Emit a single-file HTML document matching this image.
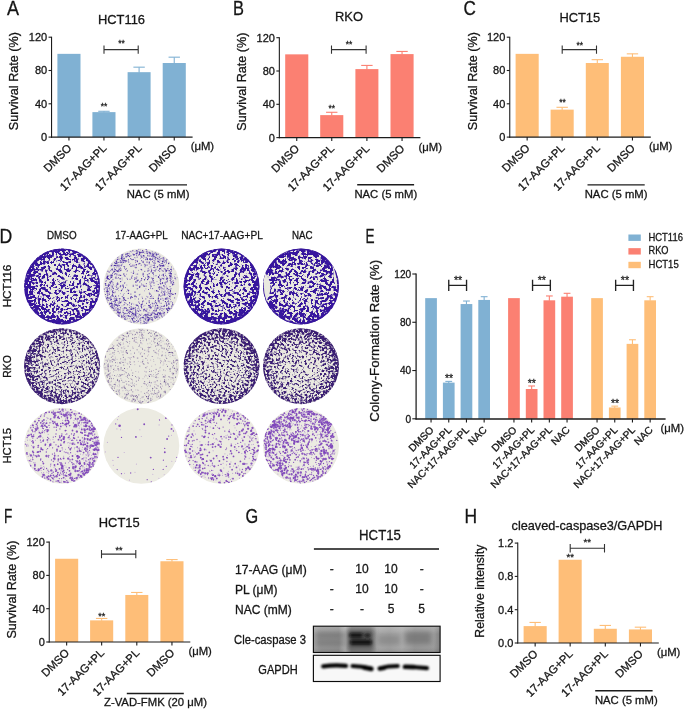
<!DOCTYPE html>
<html><head><meta charset="utf-8"><title>Figure</title>
<style>
html,body{margin:0;padding:0;background:#fff;}
body{width:685px;height:710px;overflow:hidden;font-family:"Liberation Sans",sans-serif;}
svg{display:block;font-family:"Liberation Sans",sans-serif;will-change:transform;}
text{stroke:#1a1a1a;stroke-width:0.3px;}
</style></head><body>
<svg width="685" height="710" viewBox="0 0 685 710">
<defs>
<radialGradient id="pg1" gradientUnits="userSpaceOnUse" cx="63.6" cy="284.4" r="38.0"><stop offset="0.000" stop-color="#000" stop-opacity="0.315"/><stop offset="0.500" stop-color="#000" stop-opacity="0.323"/><stop offset="0.700" stop-color="#000" stop-opacity="0.340"/><stop offset="0.820" stop-color="#000" stop-opacity="0.364"/><stop offset="0.900" stop-color="#000" stop-opacity="0.398"/><stop offset="0.960" stop-color="#000" stop-opacity="0.448"/><stop offset="1.000" stop-color="#000" stop-opacity="0.483"/></radialGradient>
<clipPath id="pc1"><circle cx="62.1" cy="286.4" r="38.0"/></clipPath>
<filter id="pf1" filterUnits="userSpaceOnUse" x="21.1" y="245.4" width="82.0" height="82.0" color-interpolation-filters="sRGB">
<feTurbulence type="fractalNoise" baseFrequency="0.42" numOctaves="3" seed="11" result="n"/>
<feColorMatrix in="n" type="matrix" values="0 0 0 0 0 0 0 0 0 0 0 0 0 0 0 1 0 0 0 0" result="na"/>
<feComposite in="na" in2="SourceGraphic" operator="arithmetic" k1="0" k2="0.5" k3="0.5" k4="0"/>
</filter>
<filter id="th0" x="-5%" y="-5%" width="110%" height="110%" color-interpolation-filters="sRGB">
<feComponentTransfer in="SourceGraphic" result="m"><feFuncA type="linear" slope="34" intercept="-14.120"/></feComponentTransfer>
<feFlood flood-color="#37169E"/><feComposite operator="in" in2="m"/>
</filter>
<radialGradient id="pg3" gradientUnits="userSpaceOnUse" cx="220.5" cy="284.9" r="38.0"><stop offset="0.000" stop-color="#000" stop-opacity="0.315"/><stop offset="0.500" stop-color="#000" stop-opacity="0.323"/><stop offset="0.700" stop-color="#000" stop-opacity="0.340"/><stop offset="0.820" stop-color="#000" stop-opacity="0.366"/><stop offset="0.900" stop-color="#000" stop-opacity="0.404"/><stop offset="0.960" stop-color="#000" stop-opacity="0.457"/><stop offset="1.000" stop-color="#000" stop-opacity="0.483"/></radialGradient>
<clipPath id="pc3"><circle cx="221.5" cy="286.4" r="38.0"/></clipPath>
<filter id="pf3" filterUnits="userSpaceOnUse" x="180.5" y="245.4" width="82.0" height="82.0" color-interpolation-filters="sRGB">
<feTurbulence type="fractalNoise" baseFrequency="0.42" numOctaves="3" seed="13" result="n"/>
<feColorMatrix in="n" type="matrix" values="0 0 0 0 0 0 0 0 0 0 0 0 0 0 0 1 0 0 0 0" result="na"/>
<feComposite in="na" in2="SourceGraphic" operator="arithmetic" k1="0" k2="0.5" k3="0.5" k4="0"/>
</filter>
<radialGradient id="pg4" gradientUnits="userSpaceOnUse" cx="301.0" cy="286.4" r="38.0"><stop offset="0.000" stop-color="#000" stop-opacity="0.326"/><stop offset="0.500" stop-color="#000" stop-opacity="0.335"/><stop offset="0.700" stop-color="#000" stop-opacity="0.354"/><stop offset="0.820" stop-color="#000" stop-opacity="0.379"/><stop offset="0.900" stop-color="#000" stop-opacity="0.416"/><stop offset="0.960" stop-color="#000" stop-opacity="0.461"/><stop offset="1.000" stop-color="#000" stop-opacity="0.483"/></radialGradient>
<clipPath id="pc4"><circle cx="301.0" cy="286.4" r="38.0"/></clipPath>
<filter id="pf4" filterUnits="userSpaceOnUse" x="260.0" y="245.4" width="82.0" height="82.0" color-interpolation-filters="sRGB">
<feTurbulence type="fractalNoise" baseFrequency="0.42" numOctaves="3" seed="14" result="n"/>
<feColorMatrix in="n" type="matrix" values="0 0 0 0 0 0 0 0 0 0 0 0 0 0 0 1 0 0 0 0" result="na"/>
<feComposite in="na" in2="SourceGraphic" operator="arithmetic" k1="0" k2="0.5" k3="0.5" k4="0"/>
</filter>
<radialGradient id="pg5" gradientUnits="userSpaceOnUse" cx="64.6" cy="363.7" r="38.0"><stop offset="0.000" stop-color="#000" stop-opacity="0.288"/><stop offset="0.500" stop-color="#000" stop-opacity="0.296"/><stop offset="0.750" stop-color="#000" stop-opacity="0.326"/><stop offset="0.900" stop-color="#000" stop-opacity="0.371"/><stop offset="1.000" stop-color="#000" stop-opacity="0.416"/></radialGradient>
<clipPath id="pc5"><circle cx="62.1" cy="366.2" r="38.0"/></clipPath>
<filter id="pf5" filterUnits="userSpaceOnUse" x="21.1" y="325.2" width="82.0" height="82.0" color-interpolation-filters="sRGB">
<feTurbulence type="fractalNoise" baseFrequency="0.55" numOctaves="2" seed="21" result="n"/>
<feColorMatrix in="n" type="matrix" values="0 0 0 0 0 0 0 0 0 0 0 0 0 0 0 1 0 0 0 0" result="na"/>
<feComposite in="na" in2="SourceGraphic" operator="arithmetic" k1="0" k2="0.5" k3="0.5" k4="0"/>
</filter>
<filter id="th1" x="-5%" y="-5%" width="110%" height="110%" color-interpolation-filters="sRGB">
<feComponentTransfer in="SourceGraphic" result="m"><feFuncA type="linear" slope="16" intercept="-6.380"/></feComponentTransfer>
<feFlood flood-color="#3B1F74"/><feComposite operator="in" in2="m"/>
</filter>
<radialGradient id="pg7" gradientUnits="userSpaceOnUse" cx="221.5" cy="368.7" r="38.0"><stop offset="0.000" stop-color="#000" stop-opacity="0.283"/><stop offset="0.500" stop-color="#000" stop-opacity="0.294"/><stop offset="0.750" stop-color="#000" stop-opacity="0.330"/><stop offset="0.900" stop-color="#000" stop-opacity="0.379"/><stop offset="1.000" stop-color="#000" stop-opacity="0.422"/></radialGradient>
<clipPath id="pc7"><circle cx="221.5" cy="366.2" r="38.0"/></clipPath>
<filter id="pf7" filterUnits="userSpaceOnUse" x="180.5" y="325.2" width="82.0" height="82.0" color-interpolation-filters="sRGB">
<feTurbulence type="fractalNoise" baseFrequency="0.55" numOctaves="2" seed="23" result="n"/>
<feColorMatrix in="n" type="matrix" values="0 0 0 0 0 0 0 0 0 0 0 0 0 0 0 1 0 0 0 0" result="na"/>
<feComposite in="na" in2="SourceGraphic" operator="arithmetic" k1="0" k2="0.5" k3="0.5" k4="0"/>
</filter>
<radialGradient id="pg8" gradientUnits="userSpaceOnUse" cx="300.5" cy="368.7" r="38.0"><stop offset="0.000" stop-color="#000" stop-opacity="0.283"/><stop offset="0.500" stop-color="#000" stop-opacity="0.296"/><stop offset="0.750" stop-color="#000" stop-opacity="0.335"/><stop offset="0.900" stop-color="#000" stop-opacity="0.383"/><stop offset="1.000" stop-color="#000" stop-opacity="0.428"/></radialGradient>
<clipPath id="pc8"><circle cx="301.0" cy="366.2" r="38.0"/></clipPath>
<filter id="pf8" filterUnits="userSpaceOnUse" x="260.0" y="325.2" width="82.0" height="82.0" color-interpolation-filters="sRGB">
<feTurbulence type="fractalNoise" baseFrequency="0.55" numOctaves="2" seed="24" result="n"/>
<feColorMatrix in="n" type="matrix" values="0 0 0 0 0 0 0 0 0 0 0 0 0 0 0 1 0 0 0 0" result="na"/>
<feComposite in="na" in2="SourceGraphic" operator="arithmetic" k1="0" k2="0.5" k3="0.5" k4="0"/>
</filter>
<clipPath id="pc2"><circle cx="141.3" cy="286.4" r="38.0"/></clipPath>
<filter id="db2" filterUnits="userSpaceOnUse" x="101.30000000000001" y="246.39999999999998" width="80.0" height="80.0"><feGaussianBlur stdDeviation="0.25"/></filter>
<clipPath id="pc6"><circle cx="141.3" cy="366.2" r="38.0"/></clipPath>
<filter id="db6" filterUnits="userSpaceOnUse" x="101.30000000000001" y="326.2" width="80.0" height="80.0"><feGaussianBlur stdDeviation="0.3"/></filter>
<clipPath id="pc9"><circle cx="62.1" cy="445.8" r="38.0"/></clipPath>
<filter id="db9" filterUnits="userSpaceOnUse" x="22.1" y="405.8" width="80.0" height="80.0"><feGaussianBlur stdDeviation="0.35"/></filter>
<clipPath id="pc10"><circle cx="141.3" cy="445.8" r="38.0"/></clipPath>
<filter id="db10" filterUnits="userSpaceOnUse" x="101.30000000000001" y="405.8" width="80.0" height="80.0"><feGaussianBlur stdDeviation="0.35"/></filter>
<clipPath id="pc11"><circle cx="221.5" cy="445.8" r="38.0"/></clipPath>
<filter id="db11" filterUnits="userSpaceOnUse" x="181.5" y="405.8" width="80.0" height="80.0"><feGaussianBlur stdDeviation="0.35"/></filter>
<clipPath id="pc12"><circle cx="301.0" cy="445.8" r="38.0"/></clipPath>
<filter id="db12" filterUnits="userSpaceOnUse" x="261.0" y="405.8" width="80.0" height="80.0"><feGaussianBlur stdDeviation="0.35"/></filter>
<filter id="bl1" x="-20%" y="-50%" width="140%" height="200%"><feGaussianBlur stdDeviation="1.45"/></filter>
<filter id="bl2" x="-30%" y="-60%" width="160%" height="220%"><feGaussianBlur stdDeviation="2.4"/></filter>
<filter id="bl3" filterUnits="userSpaceOnUse" x="313" y="655" width="128" height="27"><feGaussianBlur stdDeviation="0.8"/></filter>
<linearGradient id="bg1" x1="0" x2="1" y1="0" y2="0"><stop offset="0" stop-color="#a4a4a4"/><stop offset="0.06" stop-color="#949494"/><stop offset="0.2" stop-color="#909090"/><stop offset="0.255" stop-color="#b4b4b4"/><stop offset="0.3" stop-color="#868686"/><stop offset="0.45" stop-color="#888888"/><stop offset="0.5" stop-color="#a8a8a8"/><stop offset="0.6" stop-color="#a0a0a0"/><stop offset="0.7" stop-color="#aaaaaa"/><stop offset="0.8" stop-color="#969696"/><stop offset="0.95" stop-color="#9c9c9c"/><stop offset="1" stop-color="#808080"/></linearGradient>
<linearGradient id="bg1v" x1="0" x2="0" y1="0" y2="1"><stop offset="0" stop-color="#fff" stop-opacity="0.22"/><stop offset="0.3" stop-color="#fff" stop-opacity="0"/><stop offset="0.8" stop-color="#000" stop-opacity="0"/><stop offset="1" stop-color="#000" stop-opacity="0.10"/></linearGradient>
<clipPath id="bc1"><rect x="313.4" y="626.2" width="126.7" height="26.3"/></clipPath>
<clipPath id="bc2"><rect x="313.4" y="655.3" width="126.7" height="26.2"/></clipPath>
</defs>
<rect x="57.40" y="53.85" width="23.10" height="83.25" fill="#80B1D3"/>
<line x1="103.95" y1="112.62" x2="103.95" y2="111.29" stroke="#80B1D3" stroke-width="1.1" stroke-linecap="butt"/>
<line x1="98.25" y1="111.29" x2="109.65" y2="111.29" stroke="#80B1D3" stroke-width="1.1" stroke-linecap="butt"/>
<rect x="92.40" y="112.12" width="23.10" height="24.97" fill="#80B1D3"/>
<line x1="139.10" y1="72.67" x2="139.10" y2="67.17" stroke="#80B1D3" stroke-width="1.1" stroke-linecap="butt"/>
<line x1="133.40" y1="67.17" x2="144.80" y2="67.17" stroke="#80B1D3" stroke-width="1.1" stroke-linecap="butt"/>
<rect x="127.60" y="72.17" width="23.00" height="64.93" fill="#80B1D3"/>
<line x1="174.25" y1="63.51" x2="174.25" y2="57.18" stroke="#80B1D3" stroke-width="1.1" stroke-linecap="butt"/>
<line x1="168.55" y1="57.18" x2="179.95" y2="57.18" stroke="#80B1D3" stroke-width="1.1" stroke-linecap="butt"/>
<rect x="162.70" y="63.01" width="23.10" height="74.09" fill="#80B1D3"/>
<line x1="51.55" y1="36.65" x2="51.55" y2="137.65" stroke="#1c1c1c" stroke-width="1.1" stroke-linecap="butt"/>
<line x1="51.00" y1="137.10" x2="192.60" y2="137.10" stroke="#1c1c1c" stroke-width="1.1" stroke-linecap="butt"/>
<line x1="48.55" y1="137.10" x2="51.55" y2="137.10" stroke="#1c1c1c" stroke-width="1.1" stroke-linecap="butt"/>
<text x="47.15" y="141.00" font-size="11" text-anchor="end" fill="#141414">0</text>
<line x1="48.55" y1="103.80" x2="51.55" y2="103.80" stroke="#1c1c1c" stroke-width="1.1" stroke-linecap="butt"/>
<text x="47.15" y="107.70" font-size="11" text-anchor="end" fill="#141414">40</text>
<line x1="48.55" y1="70.50" x2="51.55" y2="70.50" stroke="#1c1c1c" stroke-width="1.1" stroke-linecap="butt"/>
<text x="47.15" y="74.40" font-size="11" text-anchor="end" fill="#141414">80</text>
<line x1="48.55" y1="37.20" x2="51.55" y2="37.20" stroke="#1c1c1c" stroke-width="1.1" stroke-linecap="butt"/>
<text x="47.15" y="41.10" font-size="11" text-anchor="end" fill="#141414">120</text>
<line x1="68.95" y1="137.10" x2="68.95" y2="140.50" stroke="#1c1c1c" stroke-width="1.1" stroke-linecap="butt"/>
<line x1="103.95" y1="137.10" x2="103.95" y2="140.50" stroke="#1c1c1c" stroke-width="1.1" stroke-linecap="butt"/>
<line x1="139.10" y1="137.10" x2="139.10" y2="140.50" stroke="#1c1c1c" stroke-width="1.1" stroke-linecap="butt"/>
<line x1="174.25" y1="137.10" x2="174.25" y2="140.50" stroke="#1c1c1c" stroke-width="1.1" stroke-linecap="butt"/>
<text x="121.50" y="23.50" font-size="12.9" text-anchor="middle" fill="#141414">HCT116</text>
<text x="18.50" y="81.15" font-size="12.6" text-anchor="middle" fill="#141414" transform="rotate(-90 18.50 81.15)">Survival Rate (%)</text>
<text x="72.25" y="148.70" font-size="11.3" text-anchor="end" fill="#141414" transform="rotate(-45 72.25 148.70)">DMSO</text>
<text x="107.25" y="148.70" font-size="11.3" text-anchor="end" fill="#141414" transform="rotate(-45 107.25 148.70)">17-AAG+PL</text>
<text x="142.40" y="148.70" font-size="11.3" text-anchor="end" fill="#141414" transform="rotate(-45 142.40 148.70)">17-AAG+PL</text>
<text x="177.55" y="148.70" font-size="11.3" text-anchor="end" fill="#141414" transform="rotate(-45 177.55 148.70)">DMSO</text>
<text x="190.70" y="150.10" font-size="11.3" text-anchor="start" fill="#141414">(μM)</text>
<path d="M104.00 45.40V53.80M104.00 49.60H138.20M138.20 45.40V53.80" stroke="#333" stroke-width="1.1" fill="none"/>
<text x="121.40" y="45.84" font-size="8.4" text-anchor="middle" fill="#333" stroke="none">**</text>
<text x="104.00" y="108.94" font-size="8.4" text-anchor="middle" fill="#333" stroke="none">**</text>
<line x1="128.90" y1="184.80" x2="187.00" y2="184.80" stroke="#1c1c1c" stroke-width="1.15" stroke-linecap="butt"/>
<text x="158.10" y="198.40" font-size="11.3" text-anchor="middle" fill="#141414">NAC (5 mM)</text>
<text x="7.00" y="15.20" font-size="19.4" text-anchor="start" fill="#141414" transform="translate(7.00 15.20) scale(0.93 1) translate(-7.00 -15.20)" stroke-width="0.65">A</text>
<rect x="285.20" y="54.35" width="23.10" height="83.25" fill="#FB8072"/>
<line x1="331.75" y1="115.62" x2="331.75" y2="112.29" stroke="#FB8072" stroke-width="1.1" stroke-linecap="butt"/>
<line x1="326.05" y1="112.29" x2="337.45" y2="112.29" stroke="#FB8072" stroke-width="1.1" stroke-linecap="butt"/>
<rect x="320.20" y="115.12" width="23.10" height="22.48" fill="#FB8072"/>
<line x1="366.90" y1="69.59" x2="366.90" y2="65.42" stroke="#FB8072" stroke-width="1.1" stroke-linecap="butt"/>
<line x1="361.20" y1="65.42" x2="372.60" y2="65.42" stroke="#FB8072" stroke-width="1.1" stroke-linecap="butt"/>
<rect x="355.40" y="69.09" width="23.00" height="68.51" fill="#FB8072"/>
<line x1="402.05" y1="54.60" x2="402.05" y2="51.44" stroke="#FB8072" stroke-width="1.1" stroke-linecap="butt"/>
<line x1="396.35" y1="51.44" x2="407.75" y2="51.44" stroke="#FB8072" stroke-width="1.1" stroke-linecap="butt"/>
<rect x="390.50" y="54.10" width="23.10" height="83.50" fill="#FB8072"/>
<line x1="279.35" y1="37.15" x2="279.35" y2="138.15" stroke="#1c1c1c" stroke-width="1.1" stroke-linecap="butt"/>
<line x1="278.80" y1="137.60" x2="420.40" y2="137.60" stroke="#1c1c1c" stroke-width="1.1" stroke-linecap="butt"/>
<line x1="276.35" y1="137.60" x2="279.35" y2="137.60" stroke="#1c1c1c" stroke-width="1.1" stroke-linecap="butt"/>
<text x="274.95" y="141.50" font-size="11" text-anchor="end" fill="#141414">0</text>
<line x1="276.35" y1="104.30" x2="279.35" y2="104.30" stroke="#1c1c1c" stroke-width="1.1" stroke-linecap="butt"/>
<text x="274.95" y="108.20" font-size="11" text-anchor="end" fill="#141414">40</text>
<line x1="276.35" y1="71.00" x2="279.35" y2="71.00" stroke="#1c1c1c" stroke-width="1.1" stroke-linecap="butt"/>
<text x="274.95" y="74.90" font-size="11" text-anchor="end" fill="#141414">80</text>
<line x1="276.35" y1="37.70" x2="279.35" y2="37.70" stroke="#1c1c1c" stroke-width="1.1" stroke-linecap="butt"/>
<text x="274.95" y="41.60" font-size="11" text-anchor="end" fill="#141414">120</text>
<line x1="296.75" y1="137.60" x2="296.75" y2="141.00" stroke="#1c1c1c" stroke-width="1.1" stroke-linecap="butt"/>
<line x1="331.75" y1="137.60" x2="331.75" y2="141.00" stroke="#1c1c1c" stroke-width="1.1" stroke-linecap="butt"/>
<line x1="366.90" y1="137.60" x2="366.90" y2="141.00" stroke="#1c1c1c" stroke-width="1.1" stroke-linecap="butt"/>
<line x1="402.05" y1="137.60" x2="402.05" y2="141.00" stroke="#1c1c1c" stroke-width="1.1" stroke-linecap="butt"/>
<text x="349.00" y="21.30" font-size="12.9" text-anchor="middle" fill="#141414">RKO</text>
<text x="246.30" y="81.65" font-size="12.6" text-anchor="middle" fill="#141414" transform="rotate(-90 246.30 81.65)">Survival Rate (%)</text>
<text x="300.05" y="149.20" font-size="11.3" text-anchor="end" fill="#141414" transform="rotate(-45 300.05 149.20)">DMSO</text>
<text x="335.05" y="149.20" font-size="11.3" text-anchor="end" fill="#141414" transform="rotate(-45 335.05 149.20)">17-AAG+PL</text>
<text x="370.20" y="149.20" font-size="11.3" text-anchor="end" fill="#141414" transform="rotate(-45 370.20 149.20)">17-AAG+PL</text>
<text x="405.35" y="149.20" font-size="11.3" text-anchor="end" fill="#141414" transform="rotate(-45 405.35 149.20)">DMSO</text>
<text x="418.50" y="150.60" font-size="11.3" text-anchor="start" fill="#141414">(μM)</text>
<path d="M331.50 45.40V53.80M331.50 49.60H366.10M366.10 45.40V53.80" stroke="#333" stroke-width="1.1" fill="none"/>
<text x="349.10" y="47.14" font-size="8.4" text-anchor="middle" fill="#333" stroke="none">**</text>
<text x="331.70" y="110.54" font-size="8.4" text-anchor="middle" fill="#333" stroke="none">**</text>
<line x1="357.20" y1="184.80" x2="414.10" y2="184.80" stroke="#1c1c1c" stroke-width="1.45" stroke-linecap="butt"/>
<text x="385.80" y="198.40" font-size="11.3" text-anchor="middle" fill="#141414">NAC (5 mM)</text>
<text x="232.90" y="15.20" font-size="19.4" text-anchor="start" fill="#141414" transform="translate(232.90 15.20) scale(0.8463 1) translate(-232.90 -15.20)" stroke-width="0.65">B</text>
<rect x="515.60" y="53.85" width="23.10" height="83.25" fill="#FEBE78"/>
<line x1="562.15" y1="110.13" x2="562.15" y2="107.30" stroke="#FEBE78" stroke-width="1.1" stroke-linecap="butt"/>
<line x1="556.45" y1="107.30" x2="567.85" y2="107.30" stroke="#FEBE78" stroke-width="1.1" stroke-linecap="butt"/>
<rect x="550.60" y="109.63" width="23.10" height="27.47" fill="#FEBE78"/>
<line x1="597.30" y1="63.51" x2="597.30" y2="59.68" stroke="#FEBE78" stroke-width="1.1" stroke-linecap="butt"/>
<line x1="591.60" y1="59.68" x2="603.00" y2="59.68" stroke="#FEBE78" stroke-width="1.1" stroke-linecap="butt"/>
<rect x="585.80" y="63.01" width="23.00" height="74.09" fill="#FEBE78"/>
<line x1="632.45" y1="57.26" x2="632.45" y2="53.85" stroke="#FEBE78" stroke-width="1.1" stroke-linecap="butt"/>
<line x1="626.75" y1="53.85" x2="638.15" y2="53.85" stroke="#FEBE78" stroke-width="1.1" stroke-linecap="butt"/>
<rect x="620.90" y="56.76" width="23.10" height="80.34" fill="#FEBE78"/>
<line x1="509.75" y1="36.65" x2="509.75" y2="137.65" stroke="#1c1c1c" stroke-width="1.1" stroke-linecap="butt"/>
<line x1="509.20" y1="137.10" x2="650.80" y2="137.10" stroke="#1c1c1c" stroke-width="1.1" stroke-linecap="butt"/>
<line x1="506.75" y1="137.10" x2="509.75" y2="137.10" stroke="#1c1c1c" stroke-width="1.1" stroke-linecap="butt"/>
<text x="505.35" y="141.00" font-size="11" text-anchor="end" fill="#141414">0</text>
<line x1="506.75" y1="103.80" x2="509.75" y2="103.80" stroke="#1c1c1c" stroke-width="1.1" stroke-linecap="butt"/>
<text x="505.35" y="107.70" font-size="11" text-anchor="end" fill="#141414">40</text>
<line x1="506.75" y1="70.50" x2="509.75" y2="70.50" stroke="#1c1c1c" stroke-width="1.1" stroke-linecap="butt"/>
<text x="505.35" y="74.40" font-size="11" text-anchor="end" fill="#141414">80</text>
<line x1="506.75" y1="37.20" x2="509.75" y2="37.20" stroke="#1c1c1c" stroke-width="1.1" stroke-linecap="butt"/>
<text x="505.35" y="41.10" font-size="11" text-anchor="end" fill="#141414">120</text>
<line x1="527.15" y1="137.10" x2="527.15" y2="140.50" stroke="#1c1c1c" stroke-width="1.1" stroke-linecap="butt"/>
<line x1="562.15" y1="137.10" x2="562.15" y2="140.50" stroke="#1c1c1c" stroke-width="1.1" stroke-linecap="butt"/>
<line x1="597.30" y1="137.10" x2="597.30" y2="140.50" stroke="#1c1c1c" stroke-width="1.1" stroke-linecap="butt"/>
<line x1="632.45" y1="137.10" x2="632.45" y2="140.50" stroke="#1c1c1c" stroke-width="1.1" stroke-linecap="butt"/>
<text x="579.80" y="21.80" font-size="12.9" text-anchor="middle" fill="#141414">HCT15</text>
<text x="476.70" y="81.15" font-size="12.6" text-anchor="middle" fill="#141414" transform="rotate(-90 476.70 81.15)">Survival Rate (%)</text>
<text x="530.45" y="148.70" font-size="11.3" text-anchor="end" fill="#141414" transform="rotate(-45 530.45 148.70)">DMSO</text>
<text x="565.45" y="148.70" font-size="11.3" text-anchor="end" fill="#141414" transform="rotate(-45 565.45 148.70)">17-AAG+PL</text>
<text x="600.60" y="148.70" font-size="11.3" text-anchor="end" fill="#141414" transform="rotate(-45 600.60 148.70)">17-AAG+PL</text>
<text x="635.75" y="148.70" font-size="11.3" text-anchor="end" fill="#141414" transform="rotate(-45 635.75 148.70)">DMSO</text>
<text x="648.90" y="150.10" font-size="11.3" text-anchor="start" fill="#141414">(μM)</text>
<path d="M562.20 45.40V53.80M562.20 49.60H596.50M596.50 45.40V53.80" stroke="#333" stroke-width="1.1" fill="none"/>
<text x="579.65" y="48.34" font-size="8.4" text-anchor="middle" fill="#333" stroke="none">**</text>
<text x="562.50" y="105.04" font-size="8.4" text-anchor="middle" fill="#333" stroke="none">**</text>
<line x1="587.50" y1="184.80" x2="644.70" y2="184.80" stroke="#1c1c1c" stroke-width="1.3" stroke-linecap="butt"/>
<text x="616.10" y="198.40" font-size="11.3" text-anchor="middle" fill="#141414">NAC (5 mM)</text>
<text x="463.60" y="15.20" font-size="19.4" text-anchor="start" fill="#141414" transform="translate(463.60 15.20) scale(0.8835 1) translate(-463.60 -15.20)" stroke-width="0.65">C</text>
<rect x="55.10" y="558.75" width="23.10" height="83.25" fill="#FEBE78"/>
<line x1="101.65" y1="620.86" x2="101.65" y2="618.44" stroke="#FEBE78" stroke-width="1.1" stroke-linecap="butt"/>
<line x1="95.95" y1="618.44" x2="107.35" y2="618.44" stroke="#FEBE78" stroke-width="1.1" stroke-linecap="butt"/>
<rect x="90.10" y="620.36" width="23.10" height="21.64" fill="#FEBE78"/>
<line x1="136.80" y1="595.46" x2="136.80" y2="592.47" stroke="#FEBE78" stroke-width="1.1" stroke-linecap="butt"/>
<line x1="131.10" y1="592.47" x2="142.50" y2="592.47" stroke="#FEBE78" stroke-width="1.1" stroke-linecap="butt"/>
<rect x="125.30" y="594.96" width="23.00" height="47.04" fill="#FEBE78"/>
<line x1="171.95" y1="561.75" x2="171.95" y2="559.58" stroke="#FEBE78" stroke-width="1.1" stroke-linecap="butt"/>
<line x1="166.25" y1="559.58" x2="177.65" y2="559.58" stroke="#FEBE78" stroke-width="1.1" stroke-linecap="butt"/>
<rect x="160.40" y="561.25" width="23.10" height="80.75" fill="#FEBE78"/>
<line x1="49.25" y1="541.55" x2="49.25" y2="642.55" stroke="#1c1c1c" stroke-width="1.1" stroke-linecap="butt"/>
<line x1="48.70" y1="642.00" x2="190.30" y2="642.00" stroke="#1c1c1c" stroke-width="1.1" stroke-linecap="butt"/>
<line x1="46.25" y1="642.00" x2="49.25" y2="642.00" stroke="#1c1c1c" stroke-width="1.1" stroke-linecap="butt"/>
<text x="44.85" y="645.90" font-size="11" text-anchor="end" fill="#141414">0</text>
<line x1="46.25" y1="608.70" x2="49.25" y2="608.70" stroke="#1c1c1c" stroke-width="1.1" stroke-linecap="butt"/>
<text x="44.85" y="612.60" font-size="11" text-anchor="end" fill="#141414">40</text>
<line x1="46.25" y1="575.40" x2="49.25" y2="575.40" stroke="#1c1c1c" stroke-width="1.1" stroke-linecap="butt"/>
<text x="44.85" y="579.30" font-size="11" text-anchor="end" fill="#141414">80</text>
<line x1="46.25" y1="542.10" x2="49.25" y2="542.10" stroke="#1c1c1c" stroke-width="1.1" stroke-linecap="butt"/>
<text x="44.85" y="546.00" font-size="11" text-anchor="end" fill="#141414">120</text>
<line x1="66.65" y1="642.00" x2="66.65" y2="645.40" stroke="#1c1c1c" stroke-width="1.1" stroke-linecap="butt"/>
<line x1="101.65" y1="642.00" x2="101.65" y2="645.40" stroke="#1c1c1c" stroke-width="1.1" stroke-linecap="butt"/>
<line x1="136.80" y1="642.00" x2="136.80" y2="645.40" stroke="#1c1c1c" stroke-width="1.1" stroke-linecap="butt"/>
<line x1="171.95" y1="642.00" x2="171.95" y2="645.40" stroke="#1c1c1c" stroke-width="1.1" stroke-linecap="butt"/>
<text x="119.20" y="526.60" font-size="12.9" text-anchor="middle" fill="#141414">HCT15</text>
<text x="16.20" y="589.55" font-size="12.6" text-anchor="middle" fill="#141414" transform="rotate(-90 16.20 589.55)">Survival Rate (%)</text>
<text x="69.95" y="653.60" font-size="11.3" text-anchor="end" fill="#141414" transform="rotate(-45 69.95 653.60)">DMSO</text>
<text x="104.95" y="653.60" font-size="11.3" text-anchor="end" fill="#141414" transform="rotate(-45 104.95 653.60)">17-AAG+PL</text>
<text x="140.10" y="653.60" font-size="11.3" text-anchor="end" fill="#141414" transform="rotate(-45 140.10 653.60)">17-AAG+PL</text>
<text x="175.25" y="653.60" font-size="11.3" text-anchor="end" fill="#141414" transform="rotate(-45 175.25 653.60)">DMSO</text>
<text x="188.40" y="655.00" font-size="11.3" text-anchor="start" fill="#141414">(μM)</text>
<path d="M101.50 549.90V558.30M101.50 554.10H135.80M135.80 549.90V558.30" stroke="#333" stroke-width="1.1" fill="none"/>
<text x="119.00" y="553.39" font-size="9.0" text-anchor="middle" fill="#333" stroke="none">**</text>
<text x="101.70" y="619.29" font-size="9.0" text-anchor="middle" fill="#333" stroke="none">**</text>
<line x1="126.80" y1="693.40" x2="183.80" y2="693.40" stroke="#1c1c1c" stroke-width="1.5" stroke-linecap="butt"/>
<text x="155.50" y="705.70" font-size="11.3" text-anchor="middle" fill="#141414">Z-VAD-FMK (20 μM)</text>
<text x="3.90" y="523.30" font-size="19.4" text-anchor="start" fill="#141414" transform="translate(3.90 523.30) scale(0.7 1) translate(-3.90 -523.30)" stroke-width="0.65">F</text>
<line x1="535.15" y1="626.60" x2="535.15" y2="622.44" stroke="#FEBE78" stroke-width="1.1" stroke-linecap="butt"/>
<line x1="529.45" y1="622.44" x2="540.85" y2="622.44" stroke="#FEBE78" stroke-width="1.1" stroke-linecap="butt"/>
<rect x="523.60" y="626.10" width="23.10" height="16.90" fill="#FEBE78"/>
<rect x="558.60" y="559.75" width="23.10" height="83.25" fill="#FEBE78"/>
<line x1="605.30" y1="629.26" x2="605.30" y2="625.43" stroke="#FEBE78" stroke-width="1.1" stroke-linecap="butt"/>
<line x1="599.60" y1="625.43" x2="611.00" y2="625.43" stroke="#FEBE78" stroke-width="1.1" stroke-linecap="butt"/>
<rect x="593.80" y="628.76" width="23.00" height="14.24" fill="#FEBE78"/>
<line x1="640.45" y1="629.93" x2="640.45" y2="627.18" stroke="#FEBE78" stroke-width="1.1" stroke-linecap="butt"/>
<line x1="634.75" y1="627.18" x2="646.15" y2="627.18" stroke="#FEBE78" stroke-width="1.1" stroke-linecap="butt"/>
<rect x="628.90" y="629.43" width="23.10" height="13.57" fill="#FEBE78"/>
<line x1="517.75" y1="542.55" x2="517.75" y2="643.55" stroke="#1c1c1c" stroke-width="1.1" stroke-linecap="butt"/>
<line x1="517.20" y1="643.00" x2="658.80" y2="643.00" stroke="#1c1c1c" stroke-width="1.1" stroke-linecap="butt"/>
<line x1="514.75" y1="643.00" x2="517.75" y2="643.00" stroke="#1c1c1c" stroke-width="1.1" stroke-linecap="butt"/>
<text x="513.35" y="646.90" font-size="11" text-anchor="end" fill="#141414">0.0</text>
<line x1="514.75" y1="609.70" x2="517.75" y2="609.70" stroke="#1c1c1c" stroke-width="1.1" stroke-linecap="butt"/>
<text x="513.35" y="613.60" font-size="11" text-anchor="end" fill="#141414">0.4</text>
<line x1="514.75" y1="576.40" x2="517.75" y2="576.40" stroke="#1c1c1c" stroke-width="1.1" stroke-linecap="butt"/>
<text x="513.35" y="580.30" font-size="11" text-anchor="end" fill="#141414">0.8</text>
<line x1="514.75" y1="543.10" x2="517.75" y2="543.10" stroke="#1c1c1c" stroke-width="1.1" stroke-linecap="butt"/>
<text x="513.35" y="547.00" font-size="11" text-anchor="end" fill="#141414">1.2</text>
<line x1="535.15" y1="643.00" x2="535.15" y2="646.40" stroke="#1c1c1c" stroke-width="1.1" stroke-linecap="butt"/>
<line x1="570.15" y1="643.00" x2="570.15" y2="646.40" stroke="#1c1c1c" stroke-width="1.1" stroke-linecap="butt"/>
<line x1="605.30" y1="643.00" x2="605.30" y2="646.40" stroke="#1c1c1c" stroke-width="1.1" stroke-linecap="butt"/>
<line x1="640.45" y1="643.00" x2="640.45" y2="646.40" stroke="#1c1c1c" stroke-width="1.1" stroke-linecap="butt"/>
<text x="587.00" y="530.00" font-size="12.7" text-anchor="middle" fill="#141414">cleaved-caspase3/GAPDH</text>
<text x="484.40" y="591.15" font-size="12.3" text-anchor="middle" fill="#141414" transform="rotate(-90 484.40 591.15)">Relative intensity</text>
<text x="538.45" y="654.60" font-size="11.3" text-anchor="end" fill="#141414" transform="rotate(-45 538.45 654.60)">DMSO</text>
<text x="573.45" y="654.60" font-size="11.3" text-anchor="end" fill="#141414" transform="rotate(-45 573.45 654.60)">17-AAG+PL</text>
<text x="608.60" y="654.60" font-size="11.3" text-anchor="end" fill="#141414" transform="rotate(-45 608.60 654.60)">17-AAG+PL</text>
<text x="643.75" y="654.60" font-size="11.3" text-anchor="end" fill="#141414" transform="rotate(-45 643.75 654.60)">DMSO</text>
<text x="656.90" y="656.00" font-size="11.3" text-anchor="start" fill="#141414">(μM)</text>
<path d="M570.20 544.10V552.50M570.20 548.30H604.50M604.50 544.10V552.50" stroke="#333" stroke-width="1.1" fill="none"/>
<text x="587.30" y="545.02" font-size="9.8" text-anchor="middle" fill="#333" stroke="none">**</text>
<text x="570.30" y="559.69" font-size="9.5" text-anchor="middle" fill="#333" stroke="none">**</text>
<line x1="595.20" y1="690.70" x2="652.60" y2="690.70" stroke="#1c1c1c" stroke-width="1.5" stroke-linecap="butt"/>
<text x="626.30" y="703.50" font-size="11.3" text-anchor="middle" fill="#141414">NAC (5 mM)</text>
<text x="464.60" y="523.40" font-size="19.4" text-anchor="start" fill="#141414" transform="translate(464.60 523.40) scale(0.9 1) translate(-464.60 -523.40)" stroke-width="0.65">H</text>
<rect x="425.20" y="298.13" width="11.70" height="120.67" fill="#80B1D3"/>
<line x1="448.75" y1="383.10" x2="448.75" y2="381.39" stroke="#80B1D3" stroke-width="1.1" stroke-linecap="butt"/>
<line x1="445.35" y1="381.39" x2="452.15" y2="381.39" stroke="#80B1D3" stroke-width="1.1" stroke-linecap="butt"/>
<rect x="442.90" y="382.60" width="11.70" height="36.20" fill="#80B1D3"/>
<line x1="466.45" y1="304.55" x2="466.45" y2="301.03" stroke="#80B1D3" stroke-width="1.1" stroke-linecap="butt"/>
<line x1="463.05" y1="301.03" x2="469.85" y2="301.03" stroke="#80B1D3" stroke-width="1.1" stroke-linecap="butt"/>
<rect x="460.60" y="304.05" width="11.70" height="114.75" fill="#80B1D3"/>
<line x1="484.15" y1="300.44" x2="484.15" y2="296.69" stroke="#80B1D3" stroke-width="1.1" stroke-linecap="butt"/>
<line x1="480.75" y1="296.69" x2="487.55" y2="296.69" stroke="#80B1D3" stroke-width="1.1" stroke-linecap="butt"/>
<rect x="478.30" y="299.94" width="11.70" height="118.86" fill="#80B1D3"/>
<path d="M448.75 279.80V291.00M448.75 285.40H466.55M466.55 279.80V291.00" stroke="#222" stroke-width="1.35" fill="none"/>
<text x="458.00" y="284.35" font-size="10.6" text-anchor="middle" fill="#333" stroke="none">**</text>
<text x="448.95" y="382.36" font-size="10.4" text-anchor="middle" fill="#333" stroke="none">**</text>
<rect x="508.10" y="298.13" width="11.70" height="120.67" fill="#FB8072"/>
<line x1="531.65" y1="389.50" x2="531.65" y2="385.98" stroke="#FB8072" stroke-width="1.1" stroke-linecap="butt"/>
<line x1="528.25" y1="385.98" x2="535.05" y2="385.98" stroke="#FB8072" stroke-width="1.1" stroke-linecap="butt"/>
<rect x="525.80" y="389.00" width="11.70" height="29.80" fill="#FB8072"/>
<line x1="549.35" y1="300.81" x2="549.35" y2="295.96" stroke="#FB8072" stroke-width="1.1" stroke-linecap="butt"/>
<line x1="545.95" y1="295.96" x2="552.75" y2="295.96" stroke="#FB8072" stroke-width="1.1" stroke-linecap="butt"/>
<rect x="543.50" y="300.31" width="11.70" height="118.49" fill="#FB8072"/>
<line x1="567.05" y1="297.19" x2="567.05" y2="293.31" stroke="#FB8072" stroke-width="1.1" stroke-linecap="butt"/>
<line x1="563.65" y1="293.31" x2="570.45" y2="293.31" stroke="#FB8072" stroke-width="1.1" stroke-linecap="butt"/>
<rect x="561.20" y="296.69" width="11.70" height="122.11" fill="#FB8072"/>
<path d="M532.55 279.80V291.00M532.55 285.40H550.35M550.35 279.80V291.00" stroke="#222" stroke-width="1.35" fill="none"/>
<text x="541.80" y="284.35" font-size="10.6" text-anchor="middle" fill="#333" stroke="none">**</text>
<text x="531.85" y="386.94" font-size="10.4" text-anchor="middle" fill="#333" stroke="none">**</text>
<rect x="591.20" y="298.13" width="11.70" height="120.67" fill="#FEBE78"/>
<line x1="614.75" y1="407.96" x2="614.75" y2="406.13" stroke="#FEBE78" stroke-width="1.1" stroke-linecap="butt"/>
<line x1="611.35" y1="406.13" x2="618.15" y2="406.13" stroke="#FEBE78" stroke-width="1.1" stroke-linecap="butt"/>
<rect x="608.90" y="407.46" width="11.70" height="11.34" fill="#FEBE78"/>
<line x1="632.45" y1="344.37" x2="632.45" y2="339.76" stroke="#FEBE78" stroke-width="1.1" stroke-linecap="butt"/>
<line x1="629.05" y1="339.76" x2="635.85" y2="339.76" stroke="#FEBE78" stroke-width="1.1" stroke-linecap="butt"/>
<rect x="626.60" y="343.87" width="11.70" height="74.93" fill="#FEBE78"/>
<line x1="650.15" y1="300.81" x2="650.15" y2="296.69" stroke="#FEBE78" stroke-width="1.1" stroke-linecap="butt"/>
<line x1="646.75" y1="296.69" x2="653.55" y2="296.69" stroke="#FEBE78" stroke-width="1.1" stroke-linecap="butt"/>
<rect x="644.30" y="300.31" width="11.70" height="118.49" fill="#FEBE78"/>
<path d="M615.65 279.80V291.00M615.65 285.40H633.45M633.45 279.80V291.00" stroke="#222" stroke-width="1.35" fill="none"/>
<text x="624.90" y="284.35" font-size="10.6" text-anchor="middle" fill="#333" stroke="none">**</text>
<text x="614.95" y="407.09" font-size="10.4" text-anchor="middle" fill="#333" stroke="none">**</text>
<line x1="416.10" y1="273.45" x2="416.10" y2="419.50" stroke="#1c1c1c" stroke-width="1.25" stroke-linecap="butt"/>
<line x1="415.50" y1="418.90" x2="665.60" y2="418.90" stroke="#1c1c1c" stroke-width="1.45" stroke-linecap="butt"/>
<line x1="412.30" y1="418.80" x2="416.10" y2="418.80" stroke="#1c1c1c" stroke-width="1.1" stroke-linecap="butt"/>
<text x="411.20" y="422.50" font-size="10.1" text-anchor="end" fill="#141414">0</text>
<line x1="412.30" y1="370.53" x2="416.10" y2="370.53" stroke="#1c1c1c" stroke-width="1.1" stroke-linecap="butt"/>
<text x="411.20" y="374.23" font-size="10.1" text-anchor="end" fill="#141414">40</text>
<line x1="412.30" y1="322.27" x2="416.10" y2="322.27" stroke="#1c1c1c" stroke-width="1.1" stroke-linecap="butt"/>
<text x="411.20" y="325.97" font-size="10.1" text-anchor="end" fill="#141414">80</text>
<line x1="412.30" y1="274.00" x2="416.10" y2="274.00" stroke="#1c1c1c" stroke-width="1.1" stroke-linecap="butt"/>
<text x="411.20" y="277.70" font-size="10.1" text-anchor="end" fill="#141414">120</text>
<line x1="431.05" y1="418.80" x2="431.05" y2="422.40" stroke="#1c1c1c" stroke-width="1.1" stroke-linecap="butt"/>
<text x="434.45" y="430.60" font-size="10.2" text-anchor="end" fill="#141414" transform="rotate(-45 434.45 430.60)">DMSO</text>
<line x1="448.75" y1="418.80" x2="448.75" y2="422.40" stroke="#1c1c1c" stroke-width="1.1" stroke-linecap="butt"/>
<text x="452.15" y="430.60" font-size="10.2" text-anchor="end" fill="#141414" transform="rotate(-45 452.15 430.60)">17-AAG+PL</text>
<line x1="466.45" y1="418.80" x2="466.45" y2="422.40" stroke="#1c1c1c" stroke-width="1.1" stroke-linecap="butt"/>
<text x="469.85" y="430.60" font-size="10.2" text-anchor="end" fill="#141414" transform="rotate(-45 469.85 430.60)">NAC+17-AAG+PL</text>
<line x1="484.15" y1="418.80" x2="484.15" y2="422.40" stroke="#1c1c1c" stroke-width="1.1" stroke-linecap="butt"/>
<text x="487.55" y="430.60" font-size="10.2" text-anchor="end" fill="#141414" transform="rotate(-45 487.55 430.60)">NAC</text>
<line x1="513.95" y1="418.80" x2="513.95" y2="422.40" stroke="#1c1c1c" stroke-width="1.1" stroke-linecap="butt"/>
<text x="517.35" y="430.60" font-size="10.2" text-anchor="end" fill="#141414" transform="rotate(-45 517.35 430.60)">DMSO</text>
<line x1="531.65" y1="418.80" x2="531.65" y2="422.40" stroke="#1c1c1c" stroke-width="1.1" stroke-linecap="butt"/>
<text x="535.05" y="430.60" font-size="10.2" text-anchor="end" fill="#141414" transform="rotate(-45 535.05 430.60)">17-AAG+PL</text>
<line x1="549.35" y1="418.80" x2="549.35" y2="422.40" stroke="#1c1c1c" stroke-width="1.1" stroke-linecap="butt"/>
<text x="552.75" y="430.60" font-size="10.2" text-anchor="end" fill="#141414" transform="rotate(-45 552.75 430.60)">NAC+17-AAG+PL</text>
<line x1="567.05" y1="418.80" x2="567.05" y2="422.40" stroke="#1c1c1c" stroke-width="1.1" stroke-linecap="butt"/>
<text x="570.45" y="430.60" font-size="10.2" text-anchor="end" fill="#141414" transform="rotate(-45 570.45 430.60)">NAC</text>
<line x1="597.05" y1="418.80" x2="597.05" y2="422.40" stroke="#1c1c1c" stroke-width="1.1" stroke-linecap="butt"/>
<text x="600.45" y="430.60" font-size="10.2" text-anchor="end" fill="#141414" transform="rotate(-45 600.45 430.60)">DMSO</text>
<line x1="614.75" y1="418.80" x2="614.75" y2="422.40" stroke="#1c1c1c" stroke-width="1.1" stroke-linecap="butt"/>
<text x="618.15" y="430.60" font-size="10.2" text-anchor="end" fill="#141414" transform="rotate(-45 618.15 430.60)">17-AAG+PL</text>
<line x1="632.45" y1="418.80" x2="632.45" y2="422.40" stroke="#1c1c1c" stroke-width="1.1" stroke-linecap="butt"/>
<text x="635.85" y="430.60" font-size="10.2" text-anchor="end" fill="#141414" transform="rotate(-45 635.85 430.60)">NAC+17-AAG+PL</text>
<line x1="650.15" y1="418.80" x2="650.15" y2="422.40" stroke="#1c1c1c" stroke-width="1.1" stroke-linecap="butt"/>
<text x="653.55" y="430.60" font-size="10.2" text-anchor="end" fill="#141414" transform="rotate(-45 653.55 430.60)">NAC</text>
<text x="660.60" y="432.00" font-size="11.3" text-anchor="start" fill="#141414">(μM)</text>
<text x="379.00" y="340.80" font-size="13.3" text-anchor="middle" fill="#141414" transform="rotate(-90 379.00 340.80)">Colony-Formation Rate (%)</text>
<rect x="628.40" y="234.50" width="12.40" height="6.40" fill="#80B1D3"/>
<text x="648.50" y="240.80" font-size="10.1" text-anchor="start" fill="#141414" textLength="34.4" lengthAdjust="spacingAndGlyphs">HCT116</text>
<rect x="628.40" y="248.15" width="12.40" height="6.40" fill="#FB8072"/>
<text x="648.50" y="254.45" font-size="10.1" text-anchor="start" fill="#141414" textLength="20.0" lengthAdjust="spacingAndGlyphs">RKO</text>
<rect x="628.40" y="261.80" width="12.40" height="6.40" fill="#FEBE78"/>
<text x="648.50" y="268.10" font-size="10.1" text-anchor="start" fill="#141414" textLength="30.2" lengthAdjust="spacingAndGlyphs">HCT15</text>
<text x="365.60" y="243.40" font-size="19.4" text-anchor="start" fill="#141414" transform="translate(365.60 243.40) scale(0.7 1) translate(-365.60 -243.40)" stroke-width="0.65">E</text>
<circle cx="62.1" cy="286.4" r="38.0" fill="#EAE9E0"/>
<g clip-path="url(#pc1)"><g filter="url(#th0)"><g transform="rotate(33 62.1 286.4)"><g filter="url(#pf1)"><rect x="21.1" y="245.4" width="82.0" height="82.0" fill="url(#pg1)"/></g></g></g><circle cx="62.1" cy="286.4" r="37.3" fill="none" stroke="#37169E" stroke-width="1.5" stroke-opacity="0.8"/></g>
<circle cx="221.5" cy="286.4" r="38.0" fill="#EAE9E0"/>
<g clip-path="url(#pc3)"><g filter="url(#th0)"><g transform="rotate(33 221.5 286.4)"><g filter="url(#pf3)"><rect x="180.5" y="245.4" width="82.0" height="82.0" fill="url(#pg3)"/></g></g></g><circle cx="221.5" cy="286.4" r="37.3" fill="none" stroke="#37169E" stroke-width="1.5" stroke-opacity="0.8"/></g>
<circle cx="301.0" cy="286.4" r="38.0" fill="#EAE9E0"/>
<g clip-path="url(#pc4)"><g filter="url(#th0)"><g transform="rotate(33 301.0 286.4)"><g filter="url(#pf4)"><rect x="260.0" y="245.4" width="82.0" height="82.0" fill="url(#pg4)"/></g></g></g><circle cx="301.0" cy="286.4" r="37.3" fill="none" stroke="#37169E" stroke-width="1.5" stroke-opacity="0.8"/><path d="M265.0 272.5 Q 261.6 287 266.6 301 Q 272.5 290 269.2 280 Q 267.6 276 265.0 272.5 Z" fill="#E9E8DF"/><path d="M331.5 262 Q 337.5 275 337.2 290 Q 333.5 282 333.6 274 Q 333.2 268 331.5 262 Z" fill="#E9E8DF"/></g>
<circle cx="62.1" cy="366.2" r="38.0" fill="#EAE9E0"/>
<g clip-path="url(#pc5)"><g filter="url(#th1)"><g transform="rotate(27 62.1 366.2)"><g filter="url(#pf5)"><rect x="21.1" y="325.2" width="82.0" height="82.0" fill="url(#pg5)"/></g></g></g><circle cx="62.1" cy="366.2" r="37.3" fill="none" stroke="#3B1F74" stroke-width="1.5" stroke-opacity="0.35"/></g>
<circle cx="221.5" cy="366.2" r="38.0" fill="#EAE9E0"/>
<g clip-path="url(#pc7)"><g filter="url(#th1)"><g transform="rotate(27 221.5 366.2)"><g filter="url(#pf7)"><rect x="180.5" y="325.2" width="82.0" height="82.0" fill="url(#pg7)"/></g></g></g><circle cx="221.5" cy="366.2" r="37.3" fill="none" stroke="#3B1F74" stroke-width="1.5" stroke-opacity="0.35"/></g>
<circle cx="301.0" cy="366.2" r="38.0" fill="#EAE9E0"/>
<g clip-path="url(#pc8)"><g filter="url(#th1)"><g transform="rotate(27 301.0 366.2)"><g filter="url(#pf8)"><rect x="260.0" y="325.2" width="82.0" height="82.0" fill="url(#pg8)"/></g></g></g><circle cx="301.0" cy="366.2" r="37.3" fill="none" stroke="#3B1F74" stroke-width="1.5" stroke-opacity="0.35"/></g>
<circle cx="141.3" cy="286.4" r="38.0" fill="#EAE9E0"/>
<g clip-path="url(#pc2)"><g filter="url(#db2)" fill="none" stroke-linecap="round">
<path d="M121.7 256.7h.01M125.8 254.1h.01M154.6 270.8h.01M171.0 288.7h.01M125.6 261.0h.01M108.1 276.2h.01M159.4 268.6h.01M115.5 273.7h.01M150.7 288.1h.01M133.8 313.4h.01M167.4 288.6h.01M166.3 303.7h.01M122.3 289.1h.01M145.8 298.9h.01M140.0 286.1h.01M156.7 303.0h.01M140.7 315.4h.01M123.4 260.6h.01M144.0 323.2h.01M160.5 268.6h.01M155.3 263.2h.01M144.1 256.9h.01M133.5 317.6h.01M146.1 257.4h.01M134.0 318.6h.01M159.9 278.6h.01M151.5 314.7h.01M124.6 283.1h.01M116.6 298.2h.01M152.9 257.0h.01M137.7 321.8h.01M119.7 265.9h.01M154.3 263.0h.01M135.6 313.2h.01M154.2 316.2h.01M153.0 312.1h.01M159.9 256.2h.01M168.0 291.9h.01M167.6 312.5h.01M147.8 297.0h.01M119.0 315.9h.01M150.4 296.5h.01M170.4 290.3h.01M161.9 306.5h.01M165.9 298.4h.01M171.4 267.0h.01M147.5 275.0h.01M119.0 313.8h.01M128.8 262.2h.01M138.7 308.0h.01M165.3 284.1h.01M121.2 302.0h.01M162.1 278.3h.01M157.5 258.6h.01M116.7 285.8h.01M164.4 305.4h.01M169.4 273.2h.01M151.7 269.9h.01M153.9 255.0h.01M166.9 259.3h.01M163.2 300.3h.01M164.2 268.8h.01M144.8 309.2h.01M160.8 279.7h.01M133.3 322.0h.01M171.0 279.1h.01M165.2 269.7h.01M119.1 269.0h.01M162.5 282.8h.01M124.4 258.3h.01M137.2 288.8h.01M146.2 249.4h.01M124.1 297.6h.01M152.8 303.8h.01M133.9 313.4h.01M152.6 279.8h.01M147.7 316.7h.01M135.7 309.6h.01M157.6 261.2h.01M170.5 269.5h.01M172.4 294.5h.01M128.6 290.9h.01M136.4 255.2h.01M167.9 270.2h.01M135.2 321.6h.01M140.7 310.6h.01M141.8 307.9h.01M136.3 278.7h.01M117.4 283.0h.01M146.1 286.1h.01M160.3 265.6h.01M156.4 290.7h.01M163.0 274.4h.01M109.1 271.9h.01M129.6 264.6h.01M150.9 266.8h.01M121.0 258.6h.01M112.8 304.8h.01M117.3 311.2h.01M160.4 281.7h.01M155.7 305.4h.01M159.3 257.6h.01M173.8 284.2h.01M144.8 271.4h.01M156.3 255.2h.01M131.8 278.3h.01M124.0 317.1h.01M158.2 300.9h.01M159.7 271.3h.01M115.4 300.7h.01M131.6 304.0h.01M132.5 297.4h.01M173.3 294.4h.01M160.9 279.6h.01M118.0 284.2h.01M149.1 305.6h.01M152.2 320.4h.01M141.1 280.5h.01M134.6 254.9h.01M151.2 314.9h.01M120.6 312.3h.01M138.3 321.0h.01M164.8 286.9h.01M169.0 298.3h.01M121.7 315.7h.01M131.8 318.5h.01M113.0 308.3h.01M112.2 295.3h.01M153.7 267.5h.01M128.8 312.4h.01M113.0 296.5h.01M169.9 293.5h.01M141.0 252.2h.01M160.3 266.2h.01M136.6 296.8h.01M107.7 290.4h.01M167.7 301.7h.01M121.9 317.3h.01M113.2 301.5h.01M133.6 259.4h.01M151.6 296.0h.01M162.3 282.9h.01M153.5 274.2h.01M155.7 318.4h.01M163.0 261.8h.01M121.8 257.2h.01M116.6 300.1h.01M149.2 307.6h.01M136.8 277.1h.01M139.4 303.3h.01M110.8 282.8h.01M122.1 316.2h.01M120.8 275.4h.01M151.0 271.9h.01M164.2 260.1h.01M127.3 304.8h.01M150.4 285.9h.01M148.6 278.3h.01M115.3 301.1h.01M123.7 315.2h.01M139.3 286.8h.01M157.9 312.8h.01M124.4 260.3h.01M107.2 276.5h.01M151.0 317.5h.01M114.7 269.3h.01M151.2 313.2h.01M128.9 312.7h.01M142.6 301.4h.01M143.4 309.4h.01M143.1 261.3h.01M118.3 271.7h.01M156.0 275.7h.01M114.5 301.0h.01M165.3 301.5h.01M161.9 258.4h.01M165.7 275.4h.01M156.6 303.8h.01M116.8 305.4h.01M124.0 266.5h.01M115.1 299.8h.01M132.4 319.6h.01M140.6 252.8h.01M158.3 270.4h.01M138.6 311.5h.01M153.1 253.8h.01M158.9 300.9h.01M112.5 273.3h.01M148.1 318.9h.01M158.2 284.5h.01M141.0 269.4h.01M168.5 307.1h.01M137.7 274.1h.01M147.9 313.0h.01M168.7 293.2h.01M135.7 262.2h.01M145.8 259.7h.01M107.8 276.2h.01M130.9 294.1h.01M118.1 288.2h.01M108.5 286.4h.01M151.5 271.1h.01M116.1 304.3h.01M139.5 287.4h.01M131.5 296.9h.01M171.4 269.7h.01M112.9 279.4h.01M130.2 309.0h.01M151.3 286.2h.01M160.2 313.2h.01M119.0 259.1h.01M116.1 261.7h.01M137.0 251.9h.01M111.2 299.5h.01M125.1 262.1h.01M137.1 285.2h.01M166.9 305.0h.01M111.2 281.2h.01M136.7 317.0h.01M165.4 301.5h.01M150.1 284.1h.01M131.3 306.8h.01M146.8 311.3h.01M117.7 306.3h.01M119.9 312.9h.01M133.2 285.3h.01M168.8 301.9h.01M107.5 297.6h.01M126.3 268.7h.01M126.9 310.0h.01M128.9 316.1h.01M128.4 259.6h.01M143.5 252.0h.01M146.6 303.3h.01M146.4 315.7h.01M141.6 260.7h.01M142.9 317.1h.01M131.2 322.3h.01M157.0 308.0h.01M167.0 298.3h.01M143.7 310.8h.01M117.3 289.3h.01M158.7 296.0h.01M152.8 258.7h.01M110.4 306.3h.01M164.0 266.0h.01M141.8 257.3h.01M147.9 255.9h.01M117.9 309.6h.01M108.0 295.0h.01M116.7 299.7h.01M135.0 295.4h.01M141.9 284.9h.01M163.1 260.2h.01M163.3 291.9h.01M147.6 317.5h.01M133.5 255.0h.01M165.7 260.8h.01M141.2 265.2h.01M137.0 253.1h.01M121.4 258.6h.01M164.1 315.9h.01M161.9 291.1h.01M170.6 272.0h.01M153.8 262.9h.01M129.6 302.8h.01M168.2 308.5h.01M124.7 266.8h.01M140.7 318.1h.01M162.1 308.6h.01M156.0 269.6h.01M117.9 308.5h.01M150.5 259.9h.01M145.7 320.0h.01M152.6 255.2h.01M151.3 307.3h.01M143.5 276.3h.01M109.2 279.5h.01M115.3 269.7h.01M149.2 302.6h.01M151.8 278.0h.01M162.3 317.1h.01M148.2 268.8h.01M153.2 281.1h.01M166.4 262.9h.01M112.9 290.5h.01M146.1 323.3h.01M117.9 305.4h.01M121.5 257.8h.01M166.2 260.8h.01M106.9 287.8h.01M113.4 308.2h.01M157.2 314.6h.01M164.1 294.7h.01M130.6 258.6h.01M123.5 312.7h.01M110.4 303.5h.01M106.3 291.2h.01M167.5 309.4h.01M105.4 294.5h.01M124.0 274.0h.01M147.4 258.9h.01M147.8 255.2h.01M156.1 310.0h.01M113.6 272.2h.01M124.3 275.7h.01M161.1 303.3h.01M120.2 286.8h.01M132.7 318.6h.01M138.9 316.0h.01M122.2 296.5h.01M127.2 313.4h.01M167.0 308.9h.01M120.7 262.6h.01M123.8 258.6h.01M161.3 292.7h.01M144.7 264.8h.01M159.4 289.3h.01M162.9 295.1h.01M151.9 298.3h.01M105.5 285.3h.01M160.0 312.6h.01M160.0 265.8h.01M154.8 261.0h.01M151.8 314.8h.01M154.4 267.1h.01M112.5 294.4h.01M161.8 287.9h.01M144.8 314.8h.01M123.3 295.0h.01M126.9 253.9h.01M124.6 268.1h.01M132.9 309.0h.01M113.2 284.8h.01M164.6 292.1h.01M119.6 301.1h.01M153.4 298.5h.01M118.6 270.6h.01M152.8 312.9h.01M128.0 290.2h.01M112.9 282.9h.01M135.7 312.9h.01M124.7 316.5h.01M115.1 308.1h.01M143.8 315.7h.01M166.4 308.9h.01M122.6 254.9h.01M117.1 283.8h.01M139.8 314.5h.01M163.1 257.7h.01M145.2 318.9h.01M159.6 275.2h.01M150.3 319.0h.01M114.7 304.0h.01M118.2 305.1h.01M133.6 271.1h.01M137.8 252.1h.01M145.0 318.9h.01M165.1 282.8h.01M170.1 308.7h.01M131.4 312.3h.01M162.3 270.8h.01M126.3 308.4h.01M111.5 307.1h.01M118.1 266.8h.01M148.9 252.1h.01M174.7 297.9h.01M138.7 321.2h.01M108.2 291.4h.01M158.2 291.4h.01M114.6 305.0h.01M163.7 265.5h.01M152.8 273.3h.01M129.2 311.3h.01M119.9 302.6h.01M131.4 277.2h.01M166.0 282.0h.01M161.5 265.7h.01M157.1 317.1h.01M109.7 282.3h.01M164.7 293.5h.01M169.9 278.0h.01M119.0 303.4h.01M170.9 294.9h.01M163.3 271.2h.01M155.4 302.3h.01M132.8 265.9h.01M121.3 265.7h.01M113.7 292.5h.01M163.7 306.3h.01M111.9 295.7h.01M120.3 270.3h.01M156.4 317.2h.01M135.6 281.8h.01M137.1 260.5h.01M106.9 285.4h.01M143.7 255.9h.01M115.7 269.8h.01M149.2 263.8h.01M125.7 269.6h.01M107.4 288.0h.01M140.8 322.3h.01M158.5 298.3h.01M132.6 250.8h.01M117.0 262.2h.01M124.4 307.9h.01M143.9 321.4h.01M127.3 270.7h.01M154.2 317.0h.01M125.5 287.6h.01M163.9 289.0h.01M139.9 281.7h.01M148.3 270.8h.01M124.0 314.0h.01M172.4 303.1h.01M109.6 294.4h.01M149.1 315.4h.01M134.0 321.8h.01M115.1 298.4h.01M118.4 277.7h.01M163.8 278.9h.01M135.6 307.8h.01M160.8 308.0h.01M107.7 278.4h.01M128.2 261.0h.01M116.9 274.9h.01M135.8 314.5h.01M149.3 293.1h.01M151.4 270.8h.01M134.1 321.2h.01M137.1 257.1h.01M135.6 314.4h.01M146.2 317.1h.01M171.7 293.6h.01M131.5 314.8h.01M152.7 288.6h.01M107.3 295.3h.01M152.0 317.5h.01M171.4 271.1h.01M158.1 258.9h.01M123.7 274.1h.01M163.0 278.6h.01M133.2 286.4h.01M131.0 309.3h.01M124.1 308.2h.01M110.3 278.0h.01M114.3 265.6h.01M171.5 276.2h.01M121.5 316.8h.01M151.4 319.3h.01M129.3 307.5h.01M145.0 266.7h.01M129.5 313.6h.01M141.0 255.7h.01M108.7 300.3h.01M162.8 261.8h.01M105.9 287.9h.01M110.9 298.0h.01M119.9 309.6h.01M122.9 312.3h.01M155.5 300.6h.01M138.6 299.0h.01M152.2 303.2h.01M170.4 290.3h.01M117.0 263.9h.01M116.0 278.1h.01M128.1 298.4h.01M149.7 277.2h.01M161.9 310.4h.01M155.0 258.6h.01M110.6 283.2h.01M158.5 312.7h.01M116.0 277.0h.01M168.1 308.2h.01M164.2 306.4h.01M120.7 307.9h.01M132.4 313.3h.01M125.8 254.8h.01M153.3 280.3h.01M165.8 270.1h.01M147.7 271.0h.01M118.2 310.0h.01M141.6 307.6h.01M158.2 299.7h.01M136.4 320.5h.01M107.2 278.1h.01M114.2 306.4h.01M117.7 257.8h.01M160.3 313.5h.01M112.4 292.9h.01M111.4 304.1h.01M130.0 279.3h.01M104.2 289.0h.01M159.1 301.8h.01M127.6 279.2h.01M168.1 310.5h.01M135.1 278.0h.01M114.4 274.2h.01M107.6 289.7h.01M154.7 317.8h.01M109.7 287.9h.01M117.6 312.7h.01M157.0 314.9h.01M141.6 269.7h.01M134.4 279.3h.01M170.1 286.6h.01M148.6 289.5h.01M160.8 296.2h.01M152.3 319.6h.01M114.3 268.0h.01M139.3 294.8h.01M135.3 260.4h.01M149.9 255.8h.01M134.1 254.5h.01M155.0 308.1h.01M161.2 315.1h.01M138.8 249.2h.01M141.3 256.9h.01M152.2 251.9h.01M122.8 257.7h.01M150.5 253.7h.01M120.5 302.4h.01M137.8 310.3h.01M153.4 310.6h.01M110.6 300.1h.01M138.8 302.0h.01M159.8 264.5h.01M153.4 254.7h.01M156.1 254.8h.01M115.6 302.3h.01M138.2 255.1h.01M132.2 276.0h.01M123.4 287.7h.01M159.8 269.5h.01M155.5 270.9h.01M166.9 282.0h.01M145.5 278.0h.01M138.7 263.9h.01M130.7 298.6h.01M139.9 287.0h.01M153.2 255.8h.01M171.0 274.6h.01M166.6 309.0h.01M108.9 284.1h.01M158.6 276.5h.01M147.0 253.0h.01M154.2 303.7h.01M106.6 298.2h.01M109.1 285.4h.01M122.6 260.0h.01M110.8 270.7h.01M138.6 306.2h.01M158.6 254.2h.01M150.4 304.8h.01M165.0 291.1h.01M121.9 264.7h.01M136.0 312.2h.01M151.3 256.2h.01M152.9 306.1h.01M157.6 314.0h.01M111.4 302.1h.01M111.3 265.3h.01M159.2 259.8h.01M122.0 261.1h.01M148.8 305.4h.01M149.9 282.1h.01M136.1 282.1h.01M155.7 252.8h.01M114.8 262.5h.01M126.6 260.8h.01M144.3 323.1h.01M110.8 296.7h.01M120.4 275.4h.01M117.2 284.5h.01M116.1 289.6h.01M133.0 314.7h.01M128.8 290.4h.01M126.4 310.6h.01M116.2 265.9h.01M155.0 267.7h.01M160.0 309.3h.01M136.1 304.9h.01M170.7 275.9h.01M130.9 255.8h.01M116.6 287.2h.01M116.7 310.2h.01M161.0 287.1h.01M124.0 298.7h.01M121.3 262.6h.01M152.9 255.0h.01M116.8 305.1h.01M163.6 313.8h.01M146.3 283.6h.01M142.4 298.3h.01M121.9 258.6h.01M147.0 309.1h.01M167.3 280.0h.01M112.2 303.8h.01M155.7 257.7h.01M116.8 273.9h.01M143.3 285.2h.01M167.6 281.2h.01M107.2 297.1h.01M119.4 305.5h.01M133.0 254.1h.01M152.6 261.7h.01M147.0 253.1h.01M163.5 274.3h.01M122.0 259.0h.01M162.5 283.3h.01M124.7 318.7h.01M137.0 313.6h.01M171.7 308.1h.01M154.6 310.2h.01M164.6 294.8h.01M167.4 268.6h.01M144.5 309.4h.01M143.0 274.9h.01M161.7 316.2h.01M153.2 265.4h.01M129.7 302.9h.01M110.9 281.9h.01M136.0 253.8h.01M141.3 252.4h.01M116.2 260.2h.01M150.1 298.4h.01M164.6 262.2h.01M166.2 302.7h.01M158.3 277.1h.01M158.0 316.4h.01M156.0 257.3h.01M152.1 256.2h.01M129.8 311.3h.01M106.3 280.8h.01M109.7 304.4h.01M131.9 308.1h.01M111.7 265.8h.01M147.2 320.3h.01M124.2 304.6h.01M124.8 302.7h.01M168.5 300.9h.01M154.8 253.7h.01M149.2 273.5h.01M113.0 295.4h.01M134.8 308.2h.01M156.4 310.1h.01M137.5 305.6h.01M111.1 274.7h.01M125.1 276.2h.01M140.8 320.2h.01M119.1 269.5h.01M147.1 265.1h.01M130.4 311.7h.01M161.8 313.4h.01M150.3 253.9h.01M127.4 255.8h.01M166.9 288.0h.01M114.4 310.1h.01M159.5 262.3h.01M109.0 288.4h.01" stroke="#37169E" stroke-width="0.95" stroke-opacity="0.9"/>
<path d="M149.9 252.5h.01M149.2 300.9h.01M135.6 311.0h.01M128.4 293.4h.01M171.1 282.9h.01M152.0 259.5h.01M160.7 299.1h.01M151.9 282.1h.01M169.7 296.4h.01M127.9 310.0h.01M156.2 316.9h.01M139.6 252.8h.01M160.3 280.1h.01M162.0 263.6h.01M112.2 275.2h.01M153.9 282.9h.01M113.3 288.6h.01M157.4 305.5h.01M145.2 315.1h.01M109.0 297.9h.01M125.7 300.4h.01M169.8 275.6h.01M148.5 276.5h.01M166.4 270.4h.01M169.1 304.1h.01M123.3 262.3h.01M154.2 256.8h.01M116.9 300.4h.01M125.8 307.9h.01M108.9 284.9h.01M172.6 284.3h.01M136.9 250.8h.01M134.0 314.8h.01M111.4 303.4h.01M160.7 283.7h.01M168.9 289.6h.01M170.3 291.8h.01M175.4 293.8h.01M120.6 285.9h.01M172.8 304.7h.01M133.4 308.4h.01M120.4 260.9h.01M105.4 283.7h.01M146.9 251.3h.01M147.0 262.1h.01M115.7 265.6h.01M125.0 260.8h.01M130.8 297.2h.01M147.2 259.0h.01M148.2 319.8h.01M112.5 291.8h.01M157.5 266.8h.01M166.2 271.2h.01M156.8 290.8h.01M112.4 307.3h.01M159.0 287.8h.01M107.1 298.9h.01M118.0 312.0h.01M128.5 315.9h.01M112.3 269.1h.01M130.1 316.4h.01M145.9 310.7h.01M139.4 254.3h.01M158.3 298.3h.01M152.2 253.9h.01M149.1 305.8h.01M137.3 280.9h.01M153.1 278.4h.01M144.1 286.2h.01M118.9 316.2h.01M143.1 262.2h.01M142.6 250.7h.01M114.2 271.3h.01M111.2 299.5h.01M142.9 252.5h.01M120.6 281.6h.01M121.9 255.0h.01M109.9 303.3h.01M150.0 294.1h.01M107.5 291.8h.01M123.2 286.6h.01M160.1 314.6h.01M143.3 317.8h.01M167.5 278.3h.01M117.6 259.6h.01M108.3 278.8h.01M136.0 267.4h.01M175.1 278.2h.01M115.6 296.3h.01M129.5 256.6h.01M131.0 266.2h.01M162.4 265.7h.01M150.8 308.0h.01M149.3 262.2h.01M150.5 258.9h.01M131.5 309.2h.01M132.5 313.3h.01M111.0 275.7h.01M143.4 255.6h.01M134.9 292.1h.01M169.2 270.7h.01M141.2 306.3h.01M156.9 254.2h.01M117.5 271.2h.01M169.4 308.7h.01M119.1 312.8h.01M137.4 261.6h.01M159.4 313.5h.01M141.3 304.7h.01M116.3 263.2h.01M167.7 310.8h.01M124.0 300.1h.01M168.6 303.9h.01M121.5 290.5h.01M170.4 276.7h.01M141.6 278.8h.01M148.5 317.6h.01M163.3 275.6h.01M154.5 265.1h.01M123.5 298.0h.01M136.8 253.4h.01M147.6 279.5h.01M145.6 265.1h.01M112.1 269.5h.01M153.0 272.8h.01M123.0 285.2h.01M157.3 314.6h.01M132.1 259.6h.01M115.6 304.9h.01M149.5 318.1h.01M165.4 299.0h.01M136.3 264.8h.01M171.8 306.1h.01M158.5 261.5h.01M135.0 296.5h.01M147.3 259.6h.01M154.2 313.2h.01M114.6 265.4h.01M142.2 304.1h.01M108.3 285.9h.01M135.7 315.7h.01M137.0 305.2h.01M124.4 299.6h.01M170.5 273.3h.01M114.6 271.5h.01M170.2 280.6h.01M171.3 273.6h.01M139.8 263.5h.01M132.3 318.9h.01M166.7 305.2h.01M119.1 275.1h.01M119.8 298.7h.01M173.5 282.6h.01M117.9 265.5h.01M168.6 263.5h.01M149.7 259.0h.01M159.3 287.0h.01M115.4 263.6h.01M162.7 261.4h.01M146.0 314.4h.01M158.0 308.0h.01M107.1 277.6h.01M125.1 319.3h.01M159.4 295.0h.01M125.0 313.5h.01M128.6 255.6h.01M111.8 281.3h.01M148.5 320.8h.01M163.3 265.8h.01M166.5 279.0h.01M116.8 270.7h.01M144.5 279.7h.01M164.3 312.8h.01M107.5 276.8h.01M112.3 286.9h.01M148.0 276.8h.01M126.1 256.8h.01M143.2 274.0h.01M150.2 306.8h.01M133.4 273.3h.01M150.2 315.6h.01M168.9 308.3h.01M163.8 285.8h.01M120.2 268.1h.01M149.0 319.5h.01M138.0 280.2h.01M120.1 278.7h.01M156.0 311.0h.01M111.6 277.2h.01M118.0 315.1h.01M147.8 314.8h.01M127.9 253.5h.01M155.5 314.2h.01M158.7 277.3h.01M163.8 258.1h.01M111.9 305.8h.01M142.1 317.6h.01" stroke="#37169E" stroke-width="1.4" stroke-opacity="0.85"/>
<path d="M146.8 258.0h.01M165.1 268.5h.01M151.1 265.0h.01M149.7 253.3h.01M116.6 261.5h.01M163.9 312.0h.01M115.2 277.8h.01M137.8 288.6h.01M162.5 293.8h.01M139.5 309.2h.01M126.9 278.2h.01M120.4 310.9h.01M161.0 306.1h.01M147.8 315.0h.01M110.2 276.2h.01M141.0 254.1h.01M161.8 295.6h.01M164.9 308.6h.01M116.3 313.3h.01M111.1 289.1h.01M149.5 253.8h.01M132.0 316.1h.01M127.0 271.5h.01M107.1 278.4h.01M171.0 268.7h.01M170.3 299.1h.01M107.3 277.7h.01M123.8 260.1h.01M142.6 257.1h.01M118.7 311.8h.01M163.7 292.3h.01M132.6 311.4h.01M133.4 254.6h.01M135.0 251.6h.01M162.7 313.2h.01M136.3 305.7h.01M117.5 262.8h.01M163.2 259.5h.01M157.1 258.0h.01M167.6 297.3h.01M163.3 276.2h.01M133.6 250.8h.01M149.1 253.0h.01M107.8 278.6h.01M166.2 292.5h.01M139.3 254.9h.01M112.6 276.7h.01M112.4 264.9h.01M147.2 321.6h.01M129.8 254.1h.01M124.0 309.8h.01M155.5 316.8h.01M114.6 263.1h.01M159.3 302.9h.01M145.3 259.1h.01M118.0 283.3h.01M106.0 283.8h.01M129.0 321.6h.01M171.4 269.3h.01M159.9 283.0h.01M158.8 301.0h.01M117.9 298.6h.01M120.1 302.3h.01M125.9 318.0h.01M169.1 262.9h.01M109.7 292.3h.01M169.8 294.4h.01M159.5 300.7h.01M143.7 301.4h.01M152.9 319.5h.01M147.8 322.9h.01M157.0 281.5h.01M147.4 253.6h.01M134.7 267.1h.01M134.7 322.3h.01M149.3 270.2h.01M118.0 302.7h.01M110.8 278.0h.01M133.2 307.3h.01M122.1 279.9h.01M171.1 281.9h.01M105.4 281.3h.01M126.7 316.1h.01M112.7 270.4h.01M170.4 278.5h.01M172.7 281.3h.01M158.2 306.1h.01M141.9 270.0h.01M133.1 320.7h.01M159.4 310.0h.01M108.1 293.9h.01M163.0 298.7h.01M130.4 251.6h.01M155.1 302.8h.01M145.4 322.5h.01M113.1 305.3h.01M121.8 262.0h.01M137.8 319.9h.01M136.9 285.7h.01M129.7 305.4h.01M121.2 269.0h.01M111.6 289.7h.01M112.6 285.9h.01M136.1 274.2h.01M154.7 311.4h.01M166.3 299.4h.01M154.9 290.9h.01M157.6 307.8h.01M110.4 298.0h.01M106.8 289.8h.01M160.2 258.8h.01M108.3 298.3h.01M119.7 314.0h.01M159.9 268.2h.01M120.2 303.3h.01M155.4 306.2h.01M118.5 295.6h.01M172.2 285.4h.01M136.7 264.5h.01M107.4 302.1h.01M120.5 270.7h.01M131.6 304.6h.01M168.4 268.6h.01M126.3 256.8h.01M123.4 310.4h.01M133.3 266.0h.01M137.1 311.1h.01M170.2 293.4h.01M131.5 296.6h.01M119.0 264.5h.01M112.0 308.4h.01M123.1 254.2h.01M118.5 262.4h.01M130.3 312.0h.01M164.4 314.4h.01M109.1 275.4h.01M153.0 320.8h.01M119.6 271.2h.01M116.4 299.8h.01M170.0 295.9h.01M170.6 301.8h.01M143.4 258.4h.01M151.0 283.6h.01M124.0 316.3h.01M171.8 277.5h.01M127.7 315.3h.01M157.1 254.8h.01M164.7 295.5h.01M149.7 310.3h.01M108.2 271.2h.01M134.8 265.6h.01M160.2 260.0h.01M147.2 274.5h.01M113.4 310.3h.01M157.7 317.7h.01M126.4 261.5h.01M106.8 278.1h.01M107.3 277.2h.01M152.9 298.5h.01M141.6 283.6h.01M149.0 312.3h.01M170.9 281.4h.01M130.4 311.8h.01M154.1 285.5h.01M157.9 319.4h.01M162.7 288.9h.01M155.4 256.9h.01M122.8 308.8h.01M160.8 258.4h.01M137.2 318.3h.01M122.2 255.4h.01M109.8 298.5h.01M140.3 249.9h.01M159.8 307.1h.01M130.3 306.8h.01M115.1 286.3h.01M161.1 261.1h.01M123.0 317.2h.01M118.8 257.0h.01M106.9 273.9h.01M127.9 304.6h.01M126.8 319.4h.01M144.9 305.6h.01M140.8 323.7h.01M141.8 314.1h.01M134.1 265.0h.01M134.4 257.6h.01M173.1 281.1h.01M111.7 269.4h.01M127.8 315.7h.01M153.6 260.3h.01M166.6 286.1h.01M132.8 320.4h.01M162.1 266.1h.01M136.2 250.5h.01M118.2 301.9h.01M144.3 255.5h.01M146.5 323.1h.01M164.2 283.0h.01M157.2 313.5h.01M135.5 285.0h.01M155.7 259.6h.01M172.1 293.3h.01M149.0 313.2h.01M155.1 301.6h.01M134.5 316.4h.01M142.4 302.7h.01M107.2 293.5h.01M122.1 278.1h.01M109.3 293.4h.01M113.8 296.6h.01M168.0 299.8h.01M146.0 249.3h.01M158.8 294.2h.01M127.6 318.3h.01M154.1 252.7h.01M119.7 262.4h.01M160.4 312.2h.01M162.8 311.1h.01M121.2 290.8h.01M145.9 288.9h.01M124.7 307.5h.01M130.4 321.8h.01M127.1 254.8h.01M161.6 269.9h.01M168.4 295.4h.01M113.6 265.9h.01M130.7 263.8h.01M122.9 310.9h.01M115.2 309.9h.01M166.9 259.7h.01M119.6 312.4h.01M148.2 277.6h.01M140.7 258.4h.01M132.0 303.3h.01M143.1 273.1h.01M134.9 315.0h.01M135.0 299.0h.01M165.8 294.9h.01M163.7 278.8h.01M153.5 256.5h.01M166.2 298.0h.01M129.3 318.4h.01M163.8 308.7h.01M144.1 263.8h.01M175.8 279.7h.01M142.9 323.5h.01M112.2 303.4h.01M154.4 314.2h.01M120.6 293.6h.01M144.7 321.9h.01M118.7 296.2h.01M140.1 294.3h.01M170.8 279.3h.01M168.1 266.3h.01M151.4 295.2h.01M139.8 252.0h.01M123.2 300.9h.01M161.2 289.0h.01M107.9 271.2h.01M114.5 297.8h.01M108.4 291.8h.01M127.2 256.4h.01M111.9 263.7h.01M150.0 294.0h.01M138.6 251.3h.01M144.3 321.4h.01M145.7 319.4h.01M156.9 267.9h.01M109.9 284.6h.01M133.8 304.1h.01M135.9 268.3h.01M110.9 306.6h.01M138.5 270.4h.01M146.5 296.4h.01M126.6 274.3h.01M107.7 293.7h.01M157.3 291.4h.01M115.8 305.0h.01M138.9 311.0h.01M122.0 305.9h.01M165.7 271.9h.01M156.9 308.8h.01M172.8 284.9h.01M148.8 319.7h.01M111.1 286.2h.01M127.5 289.4h.01M113.4 292.8h.01M151.2 268.9h.01M172.6 302.6h.01M166.7 289.0h.01M129.5 253.2h.01M139.7 282.5h.01M109.6 279.5h.01M133.9 272.3h.01M160.4 287.7h.01M165.1 273.3h.01M116.4 307.7h.01M153.8 276.0h.01M121.1 314.0h.01M135.2 319.0h.01M175.1 274.3h.01M130.3 320.2h.01M148.9 274.2h.01M159.0 265.3h.01M115.8 310.2h.01M169.8 275.6h.01M118.7 290.7h.01M116.4 261.7h.01M135.7 292.1h.01M116.4 267.8h.01M152.1 318.2h.01M162.8 263.5h.01M173.2 280.6h.01M171.3 273.8h.01M170.9 273.3h.01M130.0 310.0h.01M149.2 256.3h.01M123.6 259.8h.01M165.2 264.6h.01M114.8 303.7h.01M144.8 253.3h.01M107.1 291.7h.01M153.1 296.9h.01M172.3 278.0h.01M158.2 315.3h.01M154.8 260.2h.01M104.6 291.3h.01M105.9 278.7h.01M155.1 306.7h.01M170.3 297.1h.01M107.1 275.1h.01M117.7 306.0h.01M169.2 303.3h.01M121.6 259.2h.01M152.7 278.6h.01M159.2 318.0h.01M127.5 254.2h.01M137.0 316.7h.01M132.8 264.8h.01M117.1 278.4h.01M159.2 317.4h.01M136.1 315.4h.01M109.5 289.3h.01M158.0 256.8h.01M142.0 297.0h.01M145.1 317.8h.01M161.8 267.9h.01M115.1 292.6h.01M106.4 291.6h.01M167.4 294.2h.01M169.0 309.7h.01M147.0 321.2h.01M164.8 294.1h.01M131.6 259.1h.01M118.5 312.8h.01M131.1 317.2h.01M118.0 288.2h.01M159.7 317.3h.01M126.1 303.5h.01M114.7 300.7h.01M167.8 290.1h.01M141.2 256.3h.01M133.0 316.8h.01M122.0 300.2h.01M122.5 256.4h.01M116.7 262.7h.01M136.5 280.9h.01M150.5 314.2h.01M171.6 301.6h.01M113.0 287.3h.01M139.5 251.6h.01M123.8 305.1h.01M158.1 262.2h.01M147.5 253.4h.01M125.8 315.7h.01M138.5 317.4h.01M149.3 302.7h.01M137.6 308.6h.01M155.7 259.3h.01M145.4 316.4h.01M177.1 277.7h.01M140.2 252.5h.01M145.0 251.8h.01M152.3 313.6h.01M139.5 252.3h.01M134.7 277.7h.01M133.9 310.0h.01M143.3 320.1h.01M136.8 322.4h.01M120.7 270.7h.01M123.2 297.5h.01M156.5 314.6h.01M118.6 262.5h.01M124.2 293.5h.01M144.3 310.6h.01M109.2 272.5h.01M111.0 277.2h.01M105.4 296.8h.01M140.8 318.0h.01M139.6 319.0h.01M107.8 279.5h.01M125.0 302.8h.01M132.8 320.4h.01M106.7 292.0h.01M162.4 263.0h.01M126.7 291.4h.01M163.7 309.5h.01M157.2 308.5h.01M166.7 276.5h.01M139.8 310.7h.01M169.3 274.9h.01M171.3 281.6h.01M160.1 268.5h.01M152.5 318.5h.01M107.4 271.3h.01M166.6 277.2h.01M146.9 322.7h.01M146.8 318.5h.01M125.5 317.4h.01M161.5 275.3h.01M138.9 313.9h.01M148.6 314.9h.01M134.3 317.7h.01M120.0 269.9h.01M126.6 313.7h.01M127.7 311.1h.01M156.6 253.6h.01M170.8 291.0h.01M126.8 285.0h.01M149.3 259.5h.01M122.8 263.1h.01M170.5 299.5h.01M163.4 264.5h.01M123.5 256.4h.01M125.0 282.7h.01M117.6 308.9h.01M133.1 315.7h.01M118.0 308.0h.01M157.3 313.3h.01M144.9 286.2h.01M104.1 289.4h.01M143.3 300.6h.01M170.9 275.8h.01M116.3 261.4h.01M144.6 290.8h.01M119.0 309.8h.01M145.4 322.9h.01M143.3 306.2h.01M140.0 318.7h.01M162.3 288.5h.01M135.3 279.0h.01M122.6 260.2h.01M114.3 302.0h.01M158.9 315.4h.01M120.1 307.3h.01M165.8 261.9h.01M173.4 268.9h.01M107.5 300.5h.01M166.6 306.5h.01M161.0 263.5h.01M110.0 290.7h.01M121.5 270.3h.01M164.3 276.9h.01M166.7 298.1h.01M166.9 299.4h.01M174.4 276.6h.01M131.4 251.9h.01M126.7 254.0h.01M114.2 292.9h.01M115.2 291.7h.01M135.8 282.5h.01M135.2 257.8h.01M130.1 251.4h.01M105.6 284.1h.01M153.2 270.5h.01M110.4 282.4h.01M120.8 265.3h.01M149.3 267.1h.01M155.8 257.8h.01M131.2 272.4h.01M113.9 310.0h.01M113.8 298.9h.01M161.9 314.9h.01M168.7 273.3h.01M115.8 278.0h.01M111.1 285.2h.01M162.2 298.2h.01M111.0 265.9h.01M155.1 315.8h.01M166.4 261.7h.01M139.9 319.8h.01M145.5 315.8h.01" stroke="#37169E" stroke-width="0.8" stroke-opacity="0.5"/>
</g></g>
<circle cx="141.3" cy="366.2" r="38.0" fill="#EAE9E0"/>
<g clip-path="url(#pc6)"><g filter="url(#db6)" fill="none" stroke-linecap="round">
<path d="M114.8 350.6h.01M139.2 378.3h.01M134.3 340.1h.01M125.9 396.3h.01M173.7 373.7h.01M176.8 360.2h.01M170.2 371.2h.01M156.9 374.6h.01M132.1 395.3h.01M117.2 345.2h.01M165.2 392.0h.01M118.7 346.3h.01M157.1 335.4h.01M126.0 351.2h.01M122.5 340.3h.01M145.0 383.9h.01M141.7 332.9h.01M168.6 343.7h.01M107.3 377.3h.01M144.8 350.2h.01M112.7 347.5h.01M126.8 336.8h.01M119.2 389.9h.01M148.5 402.0h.01M165.2 391.9h.01M145.7 367.7h.01M116.8 393.5h.01M146.9 392.7h.01M135.6 396.3h.01M139.0 346.4h.01M160.5 396.7h.01M114.6 375.5h.01M155.7 377.4h.01M172.9 384.1h.01M136.1 337.6h.01M142.1 402.2h.01M156.8 335.4h.01M136.1 342.3h.01M168.0 350.3h.01M107.1 375.9h.01M177.5 369.8h.01M140.8 402.4h.01M143.2 363.6h.01M161.2 361.2h.01M169.7 352.5h.01M151.5 371.2h.01M155.9 352.7h.01M173.9 384.3h.01M172.0 352.7h.01M125.1 359.9h.01M133.9 357.1h.01M120.7 344.7h.01M152.6 390.1h.01M155.0 352.2h.01M126.2 352.5h.01M133.5 396.6h.01M139.5 402.4h.01M140.9 342.9h.01M108.3 364.0h.01M107.9 364.8h.01M118.7 391.1h.01M118.1 351.4h.01M172.2 373.2h.01M107.8 381.3h.01M174.0 362.7h.01M140.9 338.4h.01M169.5 386.5h.01M137.3 358.1h.01M158.4 371.3h.01M112.8 356.2h.01M147.6 330.5h.01M148.3 398.4h.01M108.1 374.3h.01M142.8 361.4h.01M108.7 371.3h.01M154.4 393.0h.01M164.2 348.8h.01M107.1 351.5h.01M127.7 394.7h.01M164.5 381.4h.01M124.2 386.2h.01M142.4 362.0h.01M165.8 384.9h.01M177.0 370.1h.01M173.3 362.1h.01M176.2 371.7h.01M111.8 388.0h.01M152.2 356.5h.01M117.1 340.4h.01M127.6 375.4h.01M138.8 394.9h.01M134.0 399.1h.01M160.8 340.3h.01M156.1 369.4h.01M130.7 364.5h.01M122.7 370.4h.01M108.2 366.6h.01M172.9 374.7h.01M148.1 363.2h.01M162.8 348.1h.01M133.2 399.6h.01M151.0 333.5h.01M138.7 401.3h.01M158.2 386.0h.01M132.4 334.7h.01M117.3 380.6h.01M118.8 343.2h.01M155.6 346.2h.01M165.9 382.1h.01M115.4 362.6h.01M168.6 341.0h.01M128.9 385.0h.01M134.6 337.8h.01M160.5 362.8h.01M123.0 354.8h.01M124.6 387.7h.01M128.8 381.5h.01M129.4 366.9h.01M113.4 369.5h.01M126.2 372.7h.01M134.8 401.3h.01M119.9 374.7h.01M141.0 403.3h.01M148.7 390.5h.01M129.5 375.2h.01M169.3 352.4h.01M144.7 381.6h.01M149.4 376.2h.01M146.8 396.7h.01M158.1 373.6h.01M149.7 371.5h.01M146.5 384.9h.01M164.6 379.7h.01M110.0 384.9h.01M127.2 333.0h.01M175.1 351.1h.01M149.2 395.1h.01M139.8 366.1h.01M160.4 395.6h.01M136.3 381.2h.01M160.1 337.8h.01M105.5 356.1h.01M140.6 340.7h.01M144.7 393.4h.01M122.8 374.6h.01M116.7 391.3h.01M132.3 383.0h.01M140.1 401.0h.01M127.4 353.3h.01M168.6 385.0h.01M124.0 382.4h.01M133.1 385.2h.01M112.3 348.4h.01M133.3 356.6h.01M169.9 369.1h.01M160.7 383.5h.01M132.8 373.0h.01M166.3 343.9h.01M128.5 373.9h.01M157.0 393.8h.01M113.7 359.9h.01M139.5 345.1h.01M135.6 376.5h.01M168.9 376.6h.01M158.0 345.5h.01M140.3 353.9h.01M132.4 375.5h.01M161.7 336.2h.01M161.8 355.8h.01M142.1 336.2h.01M120.7 358.9h.01M173.4 360.7h.01M139.7 332.4h.01M161.4 388.8h.01M142.3 334.3h.01M127.4 342.3h.01M143.1 396.9h.01M127.5 377.1h.01M107.9 369.0h.01M121.7 380.3h.01M154.6 390.8h.01M133.0 398.9h.01M111.3 357.3h.01M150.2 374.5h.01M149.5 332.6h.01M129.9 331.2h.01M114.6 388.2h.01M156.3 376.9h.01M134.2 361.8h.01M137.1 349.8h.01M157.7 343.4h.01M126.7 384.1h.01M172.7 352.8h.01M167.9 345.0h.01M128.6 393.8h.01M123.6 338.5h.01M160.6 387.1h.01M125.3 397.6h.01M118.4 368.8h.01M112.7 352.9h.01M146.1 371.9h.01M136.8 397.8h.01M173.2 373.3h.01M154.1 339.0h.01M130.0 358.0h.01M113.5 348.9h.01M111.5 378.7h.01M151.1 336.5h.01M154.6 386.9h.01M156.0 336.1h.01M169.4 346.6h.01M153.8 350.7h.01M127.2 398.0h.01M126.7 394.8h.01M153.8 394.3h.01M155.4 393.6h.01M144.0 364.3h.01M163.7 370.0h.01M112.2 389.1h.01M148.5 396.3h.01M111.0 366.0h.01M123.8 365.1h.01M173.4 365.6h.01M122.0 339.5h.01M128.1 346.2h.01M171.4 363.2h.01M165.7 383.1h.01M131.1 396.3h.01M144.3 353.7h.01M121.6 374.9h.01M134.1 341.1h.01M167.3 339.4h.01M142.6 356.3h.01M132.8 391.8h.01M138.4 380.2h.01M170.2 389.7h.01M122.9 339.3h.01M109.8 373.7h.01M107.4 361.2h.01M124.9 336.3h.01M172.5 355.3h.01M172.8 366.9h.01M153.8 341.2h.01M170.3 352.5h.01M158.4 396.3h.01M112.8 359.5h.01M108.5 365.9h.01M176.7 363.9h.01M159.2 341.6h.01M126.3 394.9h.01M155.7 332.6h.01M134.6 386.0h.01M146.4 339.9h.01" stroke="#3B1F74" stroke-width="0.8" stroke-opacity="0.75"/>
<path d="M157.4 343.1h.01M131.6 386.5h.01M134.5 353.0h.01M119.3 380.9h.01M145.9 358.2h.01M137.4 396.9h.01M108.9 349.2h.01M113.7 390.5h.01M167.5 366.2h.01M126.6 350.5h.01M144.0 383.2h.01M105.3 357.1h.01M135.4 334.3h.01M114.8 360.0h.01M172.8 377.7h.01M121.1 367.9h.01M104.7 363.9h.01M164.5 381.0h.01M123.4 357.3h.01M163.5 376.7h.01M125.0 388.1h.01M157.2 380.8h.01M156.2 332.1h.01M110.2 348.5h.01M127.1 353.1h.01M149.4 382.4h.01M141.1 330.2h.01M148.0 398.5h.01M150.8 400.1h.01M166.5 340.3h.01M162.2 355.0h.01M136.8 332.2h.01M142.7 338.0h.01M158.1 344.5h.01M115.2 384.3h.01M131.8 379.2h.01M119.9 362.9h.01M165.2 360.9h.01M113.7 348.5h.01M149.8 347.6h.01M146.5 396.6h.01M174.5 368.3h.01M151.2 382.7h.01M132.7 338.4h.01M139.9 329.8h.01M120.5 375.7h.01M142.6 349.1h.01M124.5 368.5h.01M106.9 375.7h.01M119.8 344.0h.01M127.5 333.2h.01M148.3 397.0h.01M123.4 335.6h.01M161.1 345.8h.01M172.1 352.5h.01M131.3 389.9h.01M142.8 401.5h.01M125.2 388.5h.01M175.5 377.2h.01M108.3 370.8h.01M156.8 388.3h.01M109.9 376.7h.01M135.3 400.1h.01M108.2 380.3h.01M124.5 398.0h.01M154.6 333.9h.01M160.8 394.7h.01M152.7 388.4h.01M149.4 376.5h.01M154.7 338.9h.01M128.5 335.8h.01M148.2 347.3h.01M123.0 362.4h.01M148.8 351.7h.01M166.7 358.3h.01M168.9 352.6h.01M108.4 382.0h.01M148.4 333.3h.01M109.6 378.6h.01M112.3 361.7h.01M117.1 394.5h.01M136.3 395.5h.01M164.1 391.7h.01M117.6 379.9h.01M164.2 381.9h.01M164.8 376.9h.01M114.2 384.3h.01M166.6 349.1h.01M111.3 348.2h.01M147.9 402.5h.01" stroke="#3B1F74" stroke-width="1.1" stroke-opacity="0.7"/>
<path d="M113.8 352.9h.01M127.7 332.4h.01M123.1 360.0h.01M122.2 396.9h.01M111.2 381.7h.01M156.6 384.9h.01M176.7 368.1h.01M177.7 368.3h.01M142.0 397.1h.01M167.2 384.4h.01M145.3 375.2h.01M129.4 361.8h.01M108.7 359.0h.01M165.9 380.2h.01M132.2 401.1h.01M114.7 370.1h.01M143.0 378.7h.01M138.6 372.0h.01M132.6 401.1h.01M119.8 343.7h.01M150.8 347.0h.01M177.9 360.5h.01M108.7 382.3h.01M122.5 335.1h.01M163.1 365.1h.01M153.4 374.5h.01M161.6 348.4h.01M150.5 385.3h.01M129.1 390.5h.01M122.9 347.9h.01M160.2 335.6h.01M107.8 367.1h.01M152.3 399.3h.01M171.5 344.3h.01M146.5 339.2h.01M121.6 348.3h.01M175.1 370.3h.01M104.1 367.3h.01M111.1 378.1h.01M137.3 399.7h.01M127.3 398.9h.01M113.9 345.5h.01M150.5 398.7h.01M117.4 366.6h.01M146.2 400.8h.01M126.5 394.2h.01M143.1 340.7h.01M133.5 395.8h.01M126.2 341.4h.01M109.8 351.0h.01M170.0 369.3h.01M130.5 362.5h.01M148.6 399.4h.01M124.5 368.4h.01M103.9 365.2h.01M109.7 361.2h.01M110.4 360.9h.01M124.3 338.7h.01M160.0 335.6h.01M105.2 373.7h.01M170.9 379.1h.01M154.1 382.1h.01M133.3 348.3h.01M158.7 390.4h.01M140.3 398.7h.01M161.9 397.2h.01M109.1 374.3h.01M177.0 359.7h.01M156.6 349.2h.01M123.3 343.1h.01M130.2 333.2h.01M108.4 381.0h.01M142.0 343.8h.01M134.9 396.2h.01M123.9 346.7h.01M118.3 366.3h.01M118.8 370.7h.01M169.3 343.5h.01M145.3 395.1h.01M109.8 354.4h.01M159.7 344.0h.01M128.2 391.8h.01M119.0 381.5h.01M115.3 358.7h.01M160.4 360.4h.01M137.4 390.0h.01M128.6 336.6h.01M151.7 366.2h.01M156.3 396.1h.01M158.5 338.5h.01M146.6 340.7h.01M151.0 398.6h.01M108.0 374.8h.01M151.8 394.4h.01M167.5 341.3h.01M112.5 388.8h.01M154.0 376.7h.01M173.5 380.3h.01M132.5 380.9h.01M173.5 355.7h.01M148.5 348.6h.01M166.6 364.5h.01M110.5 366.1h.01M169.8 361.7h.01M135.1 341.9h.01M112.6 386.5h.01M165.0 390.4h.01M128.5 378.5h.01M155.4 372.6h.01M165.0 375.0h.01M109.4 384.0h.01M157.2 336.2h.01M127.9 332.9h.01M162.3 351.8h.01M121.4 370.0h.01M129.6 341.6h.01M137.7 333.8h.01M130.2 350.7h.01M167.4 383.4h.01M155.0 384.4h.01M126.1 376.5h.01M147.8 383.3h.01M114.0 368.3h.01M142.1 356.7h.01M153.8 361.4h.01M131.9 400.4h.01M171.3 352.2h.01M143.4 335.4h.01M143.3 330.3h.01M122.3 335.0h.01M151.7 376.2h.01M168.2 361.4h.01M119.3 353.1h.01M120.7 342.5h.01M117.3 362.9h.01M155.8 387.9h.01M141.2 335.1h.01M147.5 360.2h.01M108.2 374.6h.01M168.4 383.7h.01M161.1 384.6h.01M141.1 352.6h.01M133.2 330.9h.01M144.0 338.1h.01M110.0 370.2h.01M120.4 345.2h.01M152.9 376.0h.01M119.5 337.8h.01M168.8 386.9h.01M177.1 360.1h.01M142.3 348.3h.01M158.4 354.9h.01M158.4 350.8h.01M152.3 393.6h.01M164.2 348.1h.01M121.8 387.5h.01M115.7 385.8h.01M125.1 394.1h.01M174.9 355.3h.01M118.0 340.0h.01M106.1 369.6h.01M155.2 381.5h.01M141.0 362.2h.01M170.7 368.4h.01M154.3 342.9h.01M160.9 335.1h.01M125.8 390.4h.01M170.1 377.3h.01M172.7 364.0h.01M122.9 390.7h.01M121.0 350.7h.01M129.5 343.6h.01M142.3 330.0h.01M165.8 355.2h.01M111.1 368.0h.01M163.0 341.1h.01M135.3 400.8h.01M129.3 363.1h.01M133.8 399.5h.01M120.4 369.7h.01M168.6 379.6h.01M121.5 388.0h.01M160.3 367.3h.01M161.6 347.4h.01M159.8 368.0h.01M150.6 391.2h.01M131.4 357.5h.01M147.5 356.1h.01M136.1 339.5h.01M119.5 390.8h.01M120.1 337.7h.01M138.3 390.3h.01M120.8 362.9h.01M153.4 370.5h.01M137.8 332.4h.01M114.1 352.7h.01M147.4 386.4h.01M158.7 351.2h.01M155.3 364.7h.01M150.2 386.3h.01M164.8 344.0h.01M140.8 342.5h.01M160.8 387.1h.01M163.0 377.1h.01M127.2 363.3h.01M137.1 333.1h.01M114.7 386.8h.01M134.5 383.7h.01M115.3 357.1h.01M165.9 357.0h.01M114.2 354.6h.01M119.6 394.7h.01M141.5 335.1h.01M108.0 351.0h.01M131.0 353.9h.01M125.2 358.8h.01M141.2 330.9h.01M159.5 391.9h.01M158.3 392.5h.01M159.9 396.9h.01M130.3 361.6h.01M117.4 345.0h.01M108.2 375.0h.01M159.2 398.4h.01M142.2 329.4h.01M134.8 364.7h.01M159.6 334.5h.01M149.5 369.4h.01M151.2 400.4h.01M105.6 367.2h.01M176.9 372.1h.01M159.9 358.7h.01M113.5 378.7h.01M104.9 368.0h.01M113.0 358.9h.01M124.6 374.0h.01M134.1 395.6h.01M158.6 333.0h.01M121.3 347.6h.01M105.1 369.0h.01M119.1 376.2h.01M175.9 360.2h.01M163.9 363.8h.01M158.0 377.6h.01M117.5 379.3h.01M155.2 382.7h.01M126.2 381.5h.01M113.7 348.5h.01M165.3 393.7h.01M126.4 333.4h.01M170.1 356.7h.01M175.8 360.6h.01M123.2 351.2h.01M125.4 372.0h.01M172.5 367.8h.01M157.9 358.0h.01M142.7 337.4h.01M115.8 382.3h.01M138.9 352.0h.01M151.7 344.6h.01M106.0 360.2h.01M136.3 384.6h.01M170.1 354.4h.01M144.4 330.7h.01M175.1 358.2h.01M119.2 384.3h.01M160.8 394.0h.01M107.7 360.1h.01M173.0 353.5h.01M157.6 385.8h.01M121.2 335.2h.01M138.4 329.0h.01M115.7 365.7h.01M129.4 333.8h.01M125.7 381.1h.01M126.6 341.6h.01M153.4 359.6h.01M155.5 342.5h.01M119.0 392.1h.01M147.1 366.6h.01M147.7 362.5h.01M123.0 387.4h.01M176.2 373.6h.01M172.3 348.2h.01M175.1 361.6h.01M127.3 393.0h.01M141.7 386.6h.01M154.5 333.8h.01M123.5 370.3h.01M113.6 371.8h.01M123.5 340.0h.01M108.7 375.7h.01M168.4 348.5h.01M156.4 377.8h.01M128.5 393.4h.01M114.3 352.4h.01M169.8 348.3h.01M120.9 378.4h.01M140.0 331.5h.01M142.0 397.8h.01M130.9 330.9h.01M139.6 335.0h.01M155.9 338.4h.01M164.6 359.6h.01M135.8 389.9h.01M157.1 397.3h.01M147.4 398.8h.01M117.6 374.7h.01M111.0 388.1h.01M176.8 366.2h.01M126.6 339.3h.01M157.7 335.7h.01M160.3 384.3h.01M124.9 348.3h.01M167.4 346.5h.01M112.0 386.1h.01M132.7 346.9h.01M177.3 362.3h.01M158.1 353.6h.01M123.1 352.3h.01M171.6 377.6h.01M133.9 399.8h.01M117.1 359.4h.01M153.8 337.2h.01M144.7 371.3h.01M116.0 370.5h.01M119.8 393.6h.01M111.0 385.0h.01M129.3 399.6h.01M141.7 356.3h.01M131.3 401.3h.01M140.1 332.6h.01M132.0 394.8h.01M148.9 385.0h.01M174.1 382.4h.01M121.1 361.3h.01M112.9 386.7h.01M162.6 374.6h.01M117.8 369.3h.01M136.3 377.6h.01M148.3 350.7h.01M141.6 334.8h.01M142.7 334.9h.01M112.3 375.2h.01M152.4 335.2h.01M143.0 359.9h.01M111.6 381.0h.01M110.0 362.4h.01M132.8 348.1h.01M127.4 390.4h.01M158.4 391.2h.01M110.0 375.6h.01M148.5 375.3h.01M167.3 350.9h.01M144.6 376.8h.01M149.2 339.0h.01M154.9 338.1h.01M149.9 401.6h.01M130.8 378.6h.01M115.8 391.4h.01M112.3 344.4h.01M157.2 392.6h.01M117.8 348.8h.01M165.3 370.7h.01M115.4 365.7h.01M110.9 366.6h.01M151.1 332.4h.01M175.7 376.5h.01M135.8 371.5h.01M118.9 369.8h.01M147.3 329.8h.01M105.8 372.8h.01M125.2 362.2h.01M112.8 365.4h.01M141.1 391.8h.01M153.1 330.7h.01M121.8 352.1h.01M140.9 347.4h.01M159.3 349.5h.01M118.6 337.9h.01M120.7 363.4h.01M148.4 354.9h.01M169.3 377.2h.01M110.9 360.7h.01M162.4 386.1h.01M117.4 368.5h.01M107.3 351.0h.01M113.1 346.1h.01M135.9 396.5h.01M160.1 345.4h.01M150.5 335.8h.01M107.6 366.0h.01M156.7 353.6h.01M138.9 337.0h.01M131.8 333.3h.01M161.1 342.2h.01M157.0 397.2h.01M119.1 386.8h.01M151.6 374.8h.01M147.8 343.8h.01M144.6 399.8h.01M157.6 339.8h.01M177.2 360.3h.01M119.2 382.7h.01M134.2 334.9h.01M139.1 377.9h.01M160.5 381.1h.01M163.1 395.8h.01M119.4 385.6h.01M171.0 382.4h.01M109.9 382.1h.01M151.7 393.3h.01M109.3 360.2h.01M128.2 357.6h.01M165.2 355.6h.01M173.4 373.6h.01M157.3 394.8h.01M138.1 358.1h.01M106.2 360.3h.01M107.1 365.9h.01M151.4 341.1h.01M148.2 393.5h.01M156.8 345.6h.01M130.2 395.4h.01M137.3 398.9h.01M148.5 338.7h.01M126.2 389.8h.01M146.2 375.8h.01M173.8 368.3h.01M167.7 383.9h.01M127.8 364.2h.01M117.2 389.9h.01M116.2 376.2h.01M162.8 338.1h.01M129.8 341.7h.01M151.1 330.5h.01M122.9 337.7h.01M110.6 372.8h.01M165.4 392.5h.01M154.0 331.1h.01M131.6 370.2h.01M128.8 375.0h.01M148.0 391.6h.01M117.6 386.0h.01M106.3 363.0h.01M144.1 332.3h.01M153.3 331.3h.01M109.0 348.9h.01M119.1 336.3h.01M128.0 333.9h.01M147.1 351.1h.01M165.7 352.7h.01M150.8 398.1h.01M123.1 387.0h.01M151.0 393.5h.01M165.5 375.6h.01M119.3 392.7h.01M158.4 392.6h.01M146.6 367.9h.01M159.9 370.9h.01M137.7 343.0h.01M130.4 350.4h.01M108.2 369.5h.01M108.7 367.9h.01M119.0 376.4h.01M149.6 381.0h.01M154.4 342.7h.01M138.2 377.0h.01M113.7 346.4h.01M174.5 368.0h.01M123.2 344.2h.01M132.8 395.7h.01M150.0 343.1h.01M122.6 382.2h.01M130.3 385.5h.01M175.9 368.9h.01M177.1 360.1h.01M150.7 360.1h.01M159.9 397.9h.01M111.8 359.9h.01M122.7 388.2h.01M113.5 378.4h.01M130.6 359.4h.01M163.3 362.0h.01M173.1 378.7h.01M170.5 369.1h.01M119.7 362.5h.01M130.9 383.1h.01M148.2 349.5h.01M173.1 346.5h.01M168.4 355.2h.01M155.8 375.2h.01M134.6 331.3h.01M147.8 378.4h.01M124.6 393.9h.01M164.9 392.1h.01M109.0 374.3h.01M154.9 335.9h.01M125.9 398.9h.01M124.2 371.3h.01M124.2 348.9h.01M106.9 367.8h.01M147.1 388.3h.01M127.3 368.8h.01M110.9 354.0h.01M152.5 396.7h.01M138.3 361.4h.01" stroke="#3B1F74" stroke-width="0.75" stroke-opacity="0.35"/>
</g></g>
<circle cx="62.1" cy="445.8" r="38.0" fill="#ECEBE2"/>
<g clip-path="url(#pc9)"><g filter="url(#db9)" fill="none" stroke-linecap="round">
<path d="M84.6 432.2h.01M85.7 424.3h.01M87.7 464.3h.01M89.9 448.2h.01M34.8 468.9h.01M51.8 477.6h.01M92.6 464.1h.01M80.0 461.8h.01M50.9 443.8h.01M50.3 419.2h.01M81.4 444.1h.01M85.2 473.5h.01M46.8 476.9h.01M84.1 442.6h.01M79.9 440.4h.01M91.4 423.6h.01M46.6 468.5h.01M74.7 444.2h.01M46.6 427.0h.01M90.5 430.6h.01M25.4 444.2h.01M69.5 425.7h.01M38.7 470.5h.01M43.4 428.6h.01M36.2 470.4h.01M52.9 481.9h.01M62.0 466.4h.01M83.9 475.1h.01M44.8 414.0h.01M78.2 437.1h.01M89.6 427.1h.01M63.1 411.2h.01M87.5 439.5h.01M37.4 426.0h.01M53.3 437.1h.01M56.0 434.0h.01M74.6 478.4h.01M38.1 447.4h.01M87.9 440.0h.01M32.7 440.7h.01M84.5 471.2h.01M95.9 437.4h.01M92.7 435.2h.01M66.8 434.0h.01M43.2 423.9h.01M97.8 447.7h.01M71.5 433.9h.01M50.6 480.5h.01M55.4 469.0h.01M50.7 464.8h.01M89.4 439.8h.01M85.5 473.2h.01M27.8 435.7h.01M69.4 435.8h.01M94.0 445.7h.01M37.4 422.9h.01M50.0 476.5h.01M55.0 459.0h.01M49.8 422.8h.01M56.0 444.8h.01M44.0 474.4h.01M72.4 440.2h.01M58.1 460.9h.01M84.3 441.2h.01M47.6 448.6h.01M52.4 454.1h.01M47.9 470.2h.01M75.0 424.7h.01M61.9 434.0h.01M45.7 412.3h.01M64.4 472.3h.01M36.8 456.3h.01M71.4 479.6h.01M51.5 459.9h.01M93.2 454.5h.01M81.6 465.4h.01M54.1 427.2h.01M98.2 437.0h.01M83.8 472.3h.01M66.0 452.5h.01M32.8 459.7h.01M50.6 418.9h.01M53.2 413.3h.01M42.9 423.5h.01M48.8 455.5h.01M70.6 452.7h.01M82.9 466.1h.01M58.0 425.5h.01M47.7 437.4h.01M74.3 433.7h.01M72.6 464.2h.01M89.5 450.3h.01M90.1 469.7h.01M35.0 431.4h.01M94.9 457.7h.01M40.8 458.9h.01M49.0 425.4h.01M58.3 460.8h.01M43.5 440.0h.01M84.5 449.3h.01M63.5 474.9h.01M87.1 464.1h.01M79.1 448.2h.01M57.4 423.5h.01M80.5 442.7h.01M67.5 418.5h.01M40.6 460.0h.01M27.1 437.5h.01M60.5 458.5h.01M71.2 412.3h.01M58.4 455.8h.01M54.1 412.4h.01M80.4 451.1h.01M41.0 415.0h.01M70.0 461.1h.01M75.0 469.0h.01M59.3 409.2h.01M86.0 461.1h.01M68.5 474.6h.01M85.6 450.1h.01M87.9 453.0h.01M68.6 447.7h.01M62.4 465.1h.01M98.7 440.8h.01M60.6 423.6h.01M51.9 473.4h.01M87.5 420.1h.01M49.8 444.9h.01M66.7 480.6h.01M85.7 451.0h.01M81.6 471.7h.01M80.8 475.4h.01M71.1 417.6h.01M33.1 446.3h.01M61.5 416.8h.01M33.6 454.9h.01M62.1 447.8h.01M59.3 478.6h.01M84.4 438.0h.01M83.2 422.6h.01M78.0 423.8h.01M73.1 479.3h.01M37.9 470.8h.01M67.9 453.0h.01M71.7 462.3h.01M90.4 427.5h.01M38.4 455.2h.01M80.1 420.7h.01M30.7 427.8h.01M86.9 438.8h.01M82.7 473.5h.01M73.0 480.3h.01M98.4 449.2h.01M64.8 416.5h.01M48.8 471.7h.01M65.4 463.1h.01M40.7 433.7h.01M97.6 442.2h.01M76.8 440.2h.01M56.5 430.1h.01M79.4 422.2h.01M88.5 459.7h.01M29.3 460.6h.01M74.0 434.9h.01M96.9 446.1h.01M94.0 454.4h.01M73.4 422.9h.01M45.4 426.2h.01M86.2 472.5h.01M90.3 439.0h.01M68.6 414.7h.01M59.5 436.0h.01M78.3 425.2h.01M40.4 440.1h.01M50.2 479.8h.01M79.8 416.7h.01M42.6 461.7h.01M54.5 453.1h.01M81.9 477.4h.01M31.9 441.3h.01M86.2 449.1h.01M82.4 437.8h.01M33.3 427.3h.01M63.6 439.0h.01M93.0 439.0h.01M44.8 475.8h.01M46.0 429.6h.01M53.4 472.2h.01M26.8 445.9h.01M70.8 418.3h.01M65.4 482.0h.01M66.5 426.7h.01M67.1 412.8h.01M55.9 412.4h.01M72.0 462.7h.01M54.0 442.2h.01M53.3 461.6h.01M79.4 449.9h.01M81.4 414.1h.01M76.0 413.9h.01M44.0 422.7h.01M27.1 454.4h.01M83.9 426.0h.01M82.2 441.9h.01M59.9 462.6h.01M42.5 428.0h.01M53.4 411.1h.01M90.4 447.2h.01M62.9 465.7h.01M32.9 459.6h.01M68.0 411.8h.01M93.8 464.2h.01M63.8 481.5h.01M35.2 428.4h.01M41.9 467.8h.01M57.5 480.8h.01M37.3 438.2h.01M60.1 413.8h.01M56.1 481.2h.01M90.4 447.3h.01M82.0 459.0h.01M69.9 413.9h.01M46.3 452.0h.01M66.1 412.9h.01M75.3 415.6h.01M81.9 444.6h.01M91.7 422.9h.01M95.8 447.8h.01M47.2 477.0h.01M61.6 478.6h.01M72.0 412.7h.01M52.6 447.8h.01M48.5 457.0h.01M43.6 469.4h.01M78.8 470.9h.01M67.6 469.6h.01M92.4 459.8h.01M91.2 464.2h.01M82.8 458.6h.01M97.3 457.6h.01M55.0 476.7h.01M54.7 457.0h.01M46.2 423.4h.01M39.1 418.3h.01M55.5 436.6h.01M67.8 413.0h.01M79.6 460.7h.01M94.8 429.4h.01M63.0 423.6h.01M61.0 459.3h.01M60.5 473.1h.01M73.6 435.5h.01M30.1 461.0h.01M45.2 445.4h.01M77.1 419.8h.01M85.0 422.3h.01M59.8 482.4h.01M89.8 439.9h.01M35.2 455.7h.01M44.3 416.0h.01M96.7 449.2h.01M33.7 434.8h.01M54.1 477.1h.01M73.7 463.8h.01M66.0 413.8h.01M86.8 451.2h.01M59.9 428.9h.01M71.4 447.9h.01M57.5 474.5h.01M94.8 434.1h.01M32.8 431.7h.01M92.9 441.4h.01M87.0 448.0h.01M59.4 418.4h.01M66.4 472.8h.01M41.0 442.2h.01M87.4 449.3h.01M97.5 444.1h.01M80.4 466.6h.01M76.0 460.6h.01M79.2 470.4h.01M70.0 459.7h.01M63.3 473.3h.01M40.6 416.6h.01M71.5 440.3h.01M59.1 412.5h.01M81.1 451.3h.01M77.3 477.1h.01M58.4 416.3h.01M97.9 442.3h.01M88.5 471.9h.01M68.5 420.7h.01M96.8 456.3h.01M44.7 478.0h.01M85.2 426.5h.01M89.7 428.6h.01M43.0 426.4h.01M88.7 455.1h.01M61.3 465.6h.01M48.7 438.6h.01M32.8 438.1h.01M97.4 437.7h.01M32.6 457.8h.01M83.3 418.0h.01M92.5 463.9h.01M86.8 435.3h.01M96.6 436.6h.01M56.4 427.2h.01M44.7 430.7h.01M84.6 475.0h.01M78.9 463.5h.01M95.4 442.1h.01M69.4 474.9h.01" stroke="#7A3FB8" stroke-width="1.3" stroke-opacity="0.9"/>
<path d="M63.6 458.4h.01M75.3 467.2h.01M84.4 417.7h.01M65.1 424.5h.01M43.9 419.9h.01M82.4 471.5h.01M89.5 429.8h.01M84.6 464.0h.01M76.0 425.0h.01M92.1 425.5h.01M47.4 439.9h.01M91.6 429.5h.01M32.7 425.2h.01M85.1 448.6h.01M62.4 466.3h.01M83.4 444.9h.01M81.8 429.5h.01M84.4 462.9h.01M91.1 466.8h.01M97.5 450.5h.01M85.5 426.1h.01M26.9 453.0h.01M33.1 442.8h.01M95.0 456.6h.01M77.8 458.3h.01M90.3 440.1h.01M47.4 477.7h.01M40.8 422.8h.01M61.6 436.0h.01M31.2 434.5h.01M62.7 471.7h.01M33.2 442.1h.01M82.2 433.0h.01M41.1 448.1h.01M80.8 432.3h.01M70.2 449.0h.01M58.4 459.2h.01M89.0 468.9h.01M96.0 445.3h.01M33.5 436.3h.01M58.5 439.7h.01M61.1 463.1h.01M70.3 449.5h.01M43.1 440.9h.01M53.7 414.2h.01M86.0 472.5h.01M58.0 412.2h.01M57.9 472.7h.01M65.0 415.6h.01M87.0 429.3h.01M72.0 480.2h.01M33.5 447.6h.01M95.6 454.2h.01M32.1 430.1h.01M57.0 449.3h.01M77.6 455.8h.01M48.5 476.2h.01M46.1 412.6h.01M34.9 465.8h.01M87.8 438.9h.01M84.7 439.0h.01M85.1 435.2h.01M74.6 425.7h.01M67.4 417.3h.01M83.6 452.6h.01M29.1 435.1h.01M66.6 423.4h.01M94.2 449.8h.01M93.7 427.3h.01M77.7 471.0h.01M66.6 475.9h.01M57.7 464.2h.01M42.4 421.1h.01M86.5 425.5h.01M55.9 423.8h.01M42.6 449.7h.01M38.9 420.6h.01M68.7 422.4h.01M60.8 426.4h.01M85.2 444.3h.01M85.2 448.1h.01M68.8 421.9h.01M36.6 456.5h.01M89.4 467.0h.01M78.0 442.7h.01M40.7 468.3h.01M79.7 463.8h.01M47.3 431.4h.01M61.5 414.2h.01M37.5 452.2h.01M74.1 426.7h.01M49.2 412.1h.01M93.5 453.7h.01M79.6 450.9h.01M68.2 423.6h.01M93.1 466.0h.01M89.1 426.4h.01M80.7 417.5h.01M65.2 414.6h.01M54.5 465.0h.01M52.8 478.3h.01M50.7 475.5h.01M79.0 423.1h.01M79.2 413.2h.01M84.9 430.4h.01M60.3 411.6h.01M57.8 417.4h.01M96.4 442.4h.01M74.3 413.9h.01M77.4 451.3h.01M53.4 423.3h.01M45.4 444.3h.01M58.4 417.7h.01M91.8 438.6h.01M73.7 437.9h.01M38.3 445.7h.01M41.2 449.2h.01M72.4 459.4h.01M56.4 470.1h.01M36.4 424.3h.01M94.3 443.0h.01M51.9 412.4h.01M64.0 442.6h.01M69.5 470.8h.01M98.9 450.0h.01M92.7 445.8h.01M70.7 473.5h.01M88.5 470.5h.01M72.4 478.2h.01M58.5 480.9h.01M39.5 432.7h.01M40.2 451.4h.01M90.4 458.7h.01M65.5 420.6h.01M48.6 479.1h.01M52.8 421.4h.01M64.2 481.9h.01M87.4 472.6h.01M80.5 416.7h.01M84.5 470.2h.01M93.2 446.0h.01M46.6 423.1h.01M78.0 418.7h.01M54.4 458.8h.01M93.0 458.3h.01M80.1 440.5h.01M38.3 451.9h.01M61.2 440.2h.01M74.4 438.3h.01M53.8 458.5h.01M85.7 420.3h.01M97.0 449.8h.01M67.5 420.3h.01M65.4 430.6h.01M44.7 425.4h.01M33.0 425.4h.01M62.6 423.2h.01M79.8 468.5h.01M54.7 455.5h.01M38.8 436.8h.01M59.5 475.1h.01M46.9 427.2h.01M89.5 421.2h.01M93.2 431.6h.01M54.8 422.1h.01M32.0 436.4h.01M92.8 462.7h.01M94.8 428.8h.01M95.3 454.2h.01M68.7 437.3h.01M75.9 424.6h.01M61.0 464.5h.01M96.2 449.6h.01M34.8 468.7h.01M59.5 468.9h.01M32.8 451.5h.01M42.2 432.4h.01M34.9 464.5h.01M53.4 475.3h.01M43.4 463.5h.01M72.5 430.5h.01M61.6 468.0h.01M86.5 470.7h.01M58.4 446.4h.01M77.1 447.0h.01M85.1 422.5h.01M42.4 476.8h.01M65.3 475.5h.01M93.8 429.2h.01M75.5 418.8h.01M55.0 413.4h.01M63.7 470.5h.01M55.9 471.2h.01M60.9 445.2h.01M93.7 431.2h.01M33.4 452.6h.01M30.6 465.8h.01M80.2 463.6h.01M69.2 467.8h.01M70.8 409.6h.01M84.9 435.2h.01M91.3 438.3h.01M64.3 441.6h.01M39.0 456.1h.01M59.9 437.5h.01M87.6 472.6h.01M72.5 456.0h.01M80.6 476.2h.01M63.6 477.7h.01M57.0 450.8h.01M87.5 443.2h.01M28.1 435.6h.01M83.6 444.5h.01M35.0 421.5h.01M87.7 428.8h.01M60.1 451.2h.01" stroke="#7A3FB8" stroke-width="1.8" stroke-opacity="0.9"/>
<path d="M81.7 419.8h.01M75.7 466.5h.01M84.5 429.6h.01M89.2 465.0h.01M92.0 445.7h.01M30.9 455.4h.01M66.1 424.4h.01M36.1 429.7h.01M62.4 468.4h.01M95.0 449.3h.01M75.5 471.0h.01M95.5 444.5h.01M77.3 461.6h.01M46.5 456.0h.01M86.2 426.1h.01M51.3 470.4h.01M85.2 418.7h.01M66.6 415.3h.01M47.7 430.3h.01M83.2 419.6h.01M63.7 415.0h.01M77.3 456.3h.01M89.7 462.7h.01M87.0 470.1h.01M87.2 446.0h.01M54.4 417.3h.01M73.2 467.3h.01M81.2 476.4h.01M64.0 437.2h.01M78.8 457.0h.01M87.3 422.7h.01M90.7 445.6h.01M91.4 433.4h.01M40.3 436.2h.01M94.3 449.8h.01M89.7 420.9h.01M68.2 458.6h.01M38.7 469.5h.01M76.9 431.6h.01M94.2 461.0h.01M70.0 474.8h.01M63.7 438.8h.01M76.2 426.2h.01M42.0 425.7h.01M55.0 415.5h.01M81.0 444.1h.01M78.5 475.0h.01M89.2 433.4h.01M79.8 463.3h.01M67.7 482.6h.01M37.5 428.2h.01M92.2 429.2h.01M83.9 474.1h.01M97.3 442.7h.01M57.0 425.0h.01M70.6 415.2h.01M86.7 469.1h.01M88.1 435.8h.01M62.6 409.6h.01M56.6 476.2h.01M99.0 443.5h.01M97.0 443.9h.01M72.6 443.7h.01M94.8 437.8h.01M43.5 475.0h.01M76.6 478.2h.01M73.2 468.0h.01M50.3 444.9h.01M70.7 477.7h.01M74.4 481.1h.01M94.7 428.6h.01" stroke="#7A3FB8" stroke-width="2.4" stroke-opacity="0.85"/>
<path d="M82.1 475.1h.01M65.4 409.3h.01M88.1 456.1h.01M58.2 482.2h.01M53.8 413.3h.01M39.3 455.6h.01M81.6 423.1h.01M66.6 430.5h.01M42.6 430.6h.01M93.8 449.6h.01M64.8 465.6h.01M26.1 453.9h.01M71.8 412.3h.01M87.1 419.4h.01M92.5 426.8h.01M53.0 439.4h.01M87.8 447.9h.01M91.4 455.4h.01M84.8 428.5h.01M89.3 462.3h.01M47.8 441.9h.01M90.6 466.0h.01M62.6 463.9h.01M76.8 463.7h.01M56.5 415.3h.01M89.8 460.3h.01M70.4 478.8h.01M86.8 455.4h.01M81.2 466.4h.01M83.2 428.7h.01M74.9 447.5h.01M37.3 455.3h.01M65.4 449.4h.01M61.4 470.1h.01M93.4 453.1h.01M86.3 421.9h.01M50.9 463.7h.01M65.8 410.3h.01M49.1 446.7h.01M85.6 438.8h.01M64.1 451.8h.01M52.7 472.2h.01M87.5 452.7h.01M74.6 448.8h.01M48.9 430.1h.01M80.6 418.0h.01M38.9 431.0h.01M81.0 424.8h.01M61.8 474.2h.01M89.5 464.9h.01M54.0 467.3h.01M31.4 445.6h.01M38.1 418.6h.01M87.1 450.7h.01M34.5 446.5h.01M46.0 478.4h.01M62.0 474.6h.01M89.9 421.7h.01M30.7 459.4h.01M75.3 454.4h.01M92.1 431.9h.01M86.1 458.7h.01M72.5 476.8h.01M69.9 443.7h.01M90.3 427.7h.01M76.1 477.8h.01M90.5 467.6h.01M46.6 427.6h.01M67.8 412.7h.01M46.4 420.7h.01M31.7 461.4h.01M68.8 442.5h.01M50.6 466.6h.01M70.4 438.8h.01M95.1 461.0h.01M82.1 471.0h.01M70.3 473.7h.01M86.5 457.8h.01M77.5 421.7h.01M94.2 458.8h.01M69.1 474.4h.01M94.7 455.3h.01M48.2 418.4h.01M70.5 449.4h.01M83.5 458.1h.01M79.8 417.7h.01M54.0 460.6h.01M49.6 445.1h.01M90.8 434.3h.01M32.7 456.2h.01M69.1 446.0h.01M85.5 432.5h.01M27.6 440.2h.01M67.7 481.0h.01M92.5 464.3h.01M51.7 475.7h.01M83.3 440.0h.01M78.4 476.9h.01M90.1 452.2h.01M72.5 411.7h.01M65.2 424.5h.01M54.9 466.5h.01M62.7 439.2h.01M66.3 482.3h.01M96.6 457.5h.01M82.4 447.4h.01M89.3 454.2h.01M86.4 423.4h.01M50.1 443.4h.01M43.3 431.8h.01M49.5 427.6h.01M48.0 430.6h.01M46.9 472.2h.01M51.1 418.7h.01M85.1 457.3h.01M94.5 445.8h.01M80.6 469.3h.01M30.8 425.7h.01M88.7 464.7h.01M88.9 422.0h.01M87.6 442.8h.01M86.4 466.0h.01M83.9 423.7h.01M92.1 426.5h.01M39.4 469.5h.01M45.5 424.0h.01M62.0 450.4h.01M92.4 430.8h.01M76.8 431.0h.01M60.4 445.5h.01M55.6 468.9h.01M95.9 442.5h.01M48.2 434.4h.01M86.8 420.4h.01M79.8 477.6h.01M50.9 480.7h.01M28.2 431.0h.01M36.7 456.1h.01M96.1 447.6h.01M74.0 420.6h.01M84.4 468.0h.01M41.1 470.4h.01M83.0 454.8h.01M69.2 439.4h.01M89.4 446.5h.01M85.8 454.8h.01M85.1 431.1h.01M55.9 427.3h.01M36.0 426.6h.01M69.6 456.6h.01M77.6 460.8h.01M94.0 444.4h.01M60.8 443.7h.01M82.4 473.9h.01M43.8 466.5h.01M42.4 425.8h.01M87.1 454.6h.01M53.8 479.4h.01M26.4 444.7h.01M97.3 440.5h.01M70.5 416.6h.01M61.8 412.7h.01M43.2 423.9h.01M42.8 437.9h.01M30.9 427.4h.01M58.7 425.9h.01M57.2 456.0h.01M49.1 477.0h.01M63.7 413.3h.01M62.7 468.5h.01M28.4 445.9h.01M75.7 425.4h.01M66.2 418.9h.01M97.7 453.0h.01M35.0 462.5h.01M74.4 424.4h.01M73.3 481.4h.01M61.2 481.1h.01M96.3 448.4h.01M37.6 422.7h.01M85.6 460.3h.01M62.0 410.5h.01M96.8 438.4h.01M35.6 440.3h.01M78.1 413.3h.01M81.4 428.1h.01M47.3 479.3h.01M53.3 479.8h.01M92.7 449.7h.01M73.2 440.6h.01M65.5 419.0h.01M65.9 416.7h.01M66.1 417.9h.01M50.8 422.7h.01M87.0 471.1h.01M61.4 441.0h.01M75.8 427.6h.01M94.5 434.8h.01M83.1 470.4h.01M89.9 459.5h.01M30.1 464.2h.01M97.7 452.8h.01M28.0 460.8h.01M92.2 423.8h.01M74.7 424.9h.01M56.4 430.0h.01M74.3 464.4h.01M42.3 474.1h.01M72.0 477.9h.01M69.2 438.0h.01M75.8 417.1h.01M88.2 447.0h.01M82.3 440.9h.01M41.5 472.7h.01M67.5 437.8h.01M47.3 418.7h.01M53.3 413.8h.01M57.5 472.9h.01M70.2 443.0h.01M64.1 416.2h.01M38.3 451.7h.01M79.7 457.5h.01M67.7 442.9h.01M96.1 458.1h.01M73.8 442.7h.01M27.8 444.3h.01M69.0 454.2h.01M35.2 470.6h.01M81.9 473.1h.01M40.4 426.4h.01M44.6 432.7h.01M79.2 428.2h.01M63.6 466.7h.01M97.4 439.8h.01M51.1 420.3h.01M92.2 464.0h.01M88.3 456.4h.01M84.7 463.1h.01M80.0 472.9h.01M60.8 470.7h.01M77.9 448.9h.01M61.2 482.7h.01M72.8 465.1h.01M79.4 426.1h.01M62.4 420.4h.01M47.8 442.4h.01M65.6 479.0h.01M24.9 441.5h.01M32.6 430.9h.01M92.9 464.3h.01M82.0 449.9h.01M86.4 441.9h.01M39.0 418.5h.01M97.5 442.8h.01M85.2 420.5h.01M84.8 470.2h.01M64.6 451.9h.01M88.2 451.6h.01M68.7 476.1h.01M70.1 425.5h.01M30.0 440.0h.01M81.6 422.3h.01M63.0 425.4h.01M90.9 467.5h.01M73.4 469.0h.01M63.7 467.8h.01M71.1 475.0h.01M69.5 478.5h.01M65.4 434.5h.01M62.7 449.2h.01M35.1 432.8h.01M83.9 458.0h.01M66.9 412.1h.01M57.7 476.1h.01M60.8 472.2h.01M91.5 444.5h.01M63.7 456.3h.01M78.0 422.4h.01M47.0 417.5h.01M87.3 468.4h.01M83.7 459.9h.01M49.4 446.6h.01M90.6 439.3h.01M50.1 439.9h.01M44.4 467.9h.01M68.4 462.7h.01M79.4 413.3h.01M85.2 472.4h.01M62.5 467.8h.01M97.7 444.6h.01M80.3 472.3h.01M75.2 410.9h.01M33.6 462.7h.01M43.7 472.5h.01M80.6 454.2h.01M94.7 441.9h.01M69.6 412.4h.01M87.0 461.1h.01M96.4 440.9h.01M48.5 473.4h.01M77.9 451.8h.01M60.3 411.6h.01M29.4 454.0h.01M95.7 440.1h.01M66.1 467.2h.01M46.5 449.7h.01M90.4 424.9h.01M96.9 454.7h.01M80.9 471.5h.01M86.1 418.3h.01M79.6 477.6h.01M91.4 457.8h.01M28.2 456.3h.01M92.0 463.9h.01M86.1 432.0h.01M33.1 467.9h.01M93.8 428.8h.01M82.9 467.9h.01M70.4 418.8h.01M41.0 465.8h.01" stroke="#8E5AC6" stroke-width="1.0" stroke-opacity="0.6"/>
</g></g>
<circle cx="141.3" cy="445.8" r="38.0" fill="#ECEBE2"/>
<g clip-path="url(#pc10)"><g filter="url(#db10)" fill="none" stroke-linecap="round">
<path d="M115.7 423.9h.01M159.5 420.0h.01M172.0 424.9h.01M173.4 431.0h.01M121.5 437.4h.01M168.7 436.1h.01M164.7 448.4h.01M118.0 457.4h.01M163.4 460.2h.01M176.9 457.4h.01M166.3 466.3h.01M163.2 469.4h.01M153.4 469.4h.01M117.2 469.6h.01M121.5 473.7h.01M130.7 473.0h.01M147.2 479.7h.01M151.3 481.9h.01" stroke="#7A3FB8" stroke-width="1.3" stroke-opacity="0.9"/>
<path d="M137.7 409.2h.01M144.2 424.2h.01M165.9 418.1h.01M171.5 428.9h.01M135.9 436.9h.01M167.1 439.0h.01M164.8 452.2h.01M150.7 457.6h.01" stroke="#7A3FB8" stroke-width="1.9" stroke-opacity="0.9"/>
<path d="M119.6 425.8h.01" stroke="#7A3FB8" stroke-width="2.6" stroke-opacity="0.9"/>
<path d="M118.4 416.5h.01M117.5 419.6h.01M116.9 428.9h.01M120.6 429.8h.01M159.1 424.9h.01M139.9 429.8h.01M141.3 436.5h.01M171.5 435.3h.01M107.4 442.4h.01M105.3 451.9h.01M124.2 452.5h.01M175.5 461.3h.01M171.8 461.3h.01M112.9 460.4h.01M113.3 465.3h.01M124.5 473.3h.01M135.0 472.3h.01M164.2 474.8h.01M152.8 474.2h.01M129.4 480.1h.01M158.9 478.2h.01M136.4 464.1h.01" stroke="#8E5AC6" stroke-width="1.1" stroke-opacity="0.45"/>
</g></g>
<circle cx="221.5" cy="445.8" r="38.0" fill="#ECEBE2"/>
<g clip-path="url(#pc11)"><g filter="url(#db11)" fill="none" stroke-linecap="round">
<path d="M195.2 420.7h.01M213.7 479.2h.01M202.7 416.2h.01M217.9 475.1h.01M198.0 468.0h.01M225.9 449.6h.01M201.2 450.0h.01M191.2 457.7h.01M221.4 444.1h.01M203.8 424.9h.01M245.7 470.6h.01M221.0 464.4h.01M224.8 431.1h.01M249.1 468.2h.01M195.2 470.4h.01M190.7 446.3h.01M231.6 481.3h.01M202.6 429.0h.01M205.5 427.8h.01M210.3 478.1h.01M248.9 444.3h.01M243.6 473.8h.01M196.9 462.0h.01M211.1 418.6h.01M185.9 456.1h.01M236.5 450.6h.01M207.6 422.1h.01M243.2 449.0h.01M216.2 438.9h.01M251.7 440.0h.01M192.4 440.9h.01M226.9 476.1h.01M244.9 455.8h.01M214.6 433.7h.01M234.9 418.3h.01M203.5 458.9h.01M255.2 452.1h.01M210.9 444.6h.01M208.2 465.5h.01M229.5 422.8h.01M254.6 453.0h.01M207.5 474.7h.01M253.3 449.6h.01M229.2 418.8h.01M204.8 467.9h.01M236.7 413.7h.01M226.5 448.1h.01M252.4 460.7h.01M253.4 458.5h.01M247.7 419.2h.01M238.6 422.8h.01M242.8 420.9h.01M194.3 457.1h.01M196.6 465.7h.01M215.5 425.6h.01M225.3 474.6h.01M255.9 434.4h.01M236.9 418.6h.01M252.2 449.4h.01M226.7 457.4h.01M188.0 431.2h.01M193.0 435.3h.01M218.3 465.3h.01M244.6 425.7h.01M258.2 450.1h.01M249.9 437.0h.01M244.7 459.0h.01M237.8 443.3h.01M256.6 433.9h.01M242.3 415.6h.01M200.6 457.3h.01M212.3 465.1h.01M258.3 445.6h.01M216.6 414.5h.01M188.1 435.7h.01M246.2 432.8h.01M204.8 468.4h.01M203.1 414.1h.01M214.7 412.9h.01M199.4 415.9h.01M230.0 466.9h.01M212.4 434.4h.01M243.6 423.8h.01M242.5 469.3h.01M250.5 469.0h.01M249.6 450.4h.01M228.8 439.6h.01M196.3 426.3h.01M238.8 446.6h.01M214.1 422.3h.01M198.6 471.7h.01M227.8 473.6h.01M213.4 480.0h.01M205.0 464.9h.01M247.8 422.5h.01M219.2 413.6h.01M191.2 446.4h.01M231.2 444.1h.01M256.9 451.8h.01M219.1 415.7h.01M205.9 423.3h.01M245.1 453.0h.01M250.9 453.4h.01M248.8 445.9h.01M212.5 475.4h.01M249.4 469.5h.01M208.3 437.6h.01M188.9 434.7h.01M200.4 450.4h.01M251.5 430.0h.01M200.7 474.6h.01M257.0 434.4h.01M226.1 437.9h.01M230.9 434.2h.01M189.6 460.3h.01M228.6 437.0h.01M224.1 436.8h.01M205.0 412.8h.01M239.6 423.2h.01M254.3 435.4h.01M191.6 457.4h.01M222.2 411.4h.01M192.5 451.0h.01M247.4 425.4h.01M210.5 422.4h.01M189.8 464.5h.01M228.7 476.9h.01M194.0 440.5h.01M219.9 446.2h.01M240.1 418.3h.01M237.8 437.0h.01M255.8 438.6h.01M245.1 421.5h.01M190.3 457.4h.01M220.2 470.1h.01M226.9 461.3h.01M216.6 423.2h.01M202.3 418.7h.01M198.8 473.2h.01M215.4 412.9h.01M223.1 427.1h.01M235.7 473.0h.01M199.4 426.3h.01M245.0 424.7h.01M201.9 459.7h.01M245.1 473.4h.01M219.4 441.2h.01M188.5 461.3h.01M243.0 476.2h.01M229.4 418.5h.01M193.1 460.6h.01M237.5 423.5h.01M243.8 433.5h.01M202.1 436.0h.01M189.1 427.5h.01M202.7 462.5h.01M197.0 439.5h.01M201.3 476.9h.01M226.2 480.3h.01M252.1 438.2h.01M207.4 426.4h.01M247.5 451.6h.01M227.5 481.5h.01M246.9 463.8h.01M206.8 418.0h.01M212.4 463.2h.01M203.5 415.9h.01M184.6 445.4h.01M192.2 444.3h.01M211.7 470.4h.01M201.3 422.4h.01M240.7 442.3h.01M200.3 445.1h.01M231.1 415.5h.01M249.6 468.9h.01M220.2 410.3h.01M248.7 447.9h.01M220.5 482.9h.01M228.7 474.3h.01M216.7 455.7h.01M252.4 434.3h.01M208.6 441.8h.01" stroke="#7A3FB8" stroke-width="1.3" stroke-opacity="0.9"/>
<path d="M229.8 464.1h.01M196.8 465.0h.01M233.5 456.4h.01M186.3 445.4h.01M221.0 419.4h.01M237.9 413.2h.01M231.5 453.5h.01M200.8 457.7h.01M234.7 446.9h.01M230.7 451.0h.01M242.8 440.5h.01M252.8 456.6h.01M186.1 438.8h.01M241.8 472.1h.01M209.1 433.4h.01M215.4 446.6h.01M210.0 413.4h.01M248.1 425.5h.01M201.9 472.4h.01M222.0 412.1h.01M231.3 445.7h.01M239.3 475.1h.01M211.7 479.3h.01M207.1 414.2h.01M228.9 482.4h.01M239.7 474.2h.01M200.4 448.4h.01M197.0 453.9h.01M239.6 431.8h.01M200.1 450.4h.01M234.1 413.9h.01M249.0 422.9h.01M251.3 434.4h.01M218.7 416.2h.01M234.2 418.4h.01M233.0 478.7h.01M230.1 416.7h.01M257.1 451.0h.01M223.1 456.7h.01M220.7 441.7h.01M253.3 454.3h.01M223.9 415.5h.01M243.1 429.2h.01M204.7 449.5h.01M229.1 431.5h.01M213.6 458.5h.01M225.4 412.3h.01M226.3 481.1h.01M244.8 451.7h.01M205.5 430.5h.01M221.4 471.2h.01M245.1 452.7h.01M212.6 447.1h.01M220.9 470.2h.01M209.3 452.4h.01M255.5 459.8h.01M197.7 424.4h.01M190.0 453.1h.01M227.1 457.8h.01M232.9 417.3h.01M202.5 454.3h.01M200.9 473.8h.01M204.8 436.5h.01M219.2 414.9h.01M191.0 456.0h.01M213.4 413.4h.01M245.5 456.8h.01M240.7 419.2h.01M201.9 424.7h.01M205.5 420.7h.01M219.3 428.3h.01M195.8 467.7h.01M200.9 454.8h.01M216.5 455.8h.01M236.5 467.4h.01M221.1 436.6h.01M199.1 419.2h.01M205.5 432.6h.01M192.3 434.1h.01M246.1 450.3h.01M234.3 434.1h.01M203.0 472.7h.01M203.2 459.2h.01M233.6 433.6h.01M230.3 437.2h.01M219.4 461.0h.01M254.5 447.8h.01M244.3 437.0h.01M254.1 452.4h.01M215.3 475.9h.01M212.6 477.9h.01M210.6 420.4h.01M203.3 463.3h.01M228.2 475.2h.01M205.7 426.4h.01M191.3 437.1h.01M198.7 453.0h.01M254.0 459.6h.01M223.6 459.4h.01M257.7 450.5h.01M232.1 469.7h.01M188.9 440.9h.01M188.3 443.2h.01M246.7 431.8h.01M243.8 415.9h.01M248.3 467.1h.01M237.5 419.4h.01M235.2 463.7h.01M252.3 433.6h.01M216.8 478.4h.01M213.9 417.8h.01M237.9 416.3h.01M228.7 418.6h.01M247.1 446.6h.01M238.9 452.3h.01M213.2 475.0h.01M216.3 413.6h.01M218.1 409.8h.01M202.8 468.6h.01M213.4 428.2h.01M220.8 447.0h.01M245.3 433.4h.01M202.5 458.9h.01M217.5 412.2h.01M240.4 461.4h.01M206.7 461.2h.01M242.8 475.8h.01M207.3 455.6h.01M249.7 441.4h.01M193.1 426.1h.01M249.4 447.9h.01M224.5 482.8h.01M237.7 473.4h.01M195.2 461.7h.01M211.5 478.2h.01M187.2 436.2h.01M245.2 417.9h.01M253.9 450.4h.01M208.4 444.7h.01" stroke="#7A3FB8" stroke-width="1.8" stroke-opacity="0.9"/>
<path d="M212.8 444.2h.01M258.8 446.0h.01M204.1 415.7h.01M237.0 424.1h.01M239.5 434.6h.01M185.1 450.6h.01M218.5 444.9h.01M248.2 467.8h.01M215.2 476.3h.01M190.0 449.1h.01M235.6 438.9h.01M243.2 463.9h.01M257.7 442.3h.01M199.6 467.4h.01M233.6 415.5h.01M248.1 428.8h.01M205.3 473.4h.01M199.7 470.3h.01M246.2 468.8h.01M213.3 419.8h.01M199.7 465.5h.01M198.6 472.3h.01M251.1 431.0h.01M253.6 433.1h.01M211.0 460.8h.01M242.0 430.7h.01M186.0 452.2h.01M214.0 416.5h.01M244.4 463.9h.01M246.8 423.6h.01M219.2 482.6h.01M225.5 411.0h.01M242.1 446.3h.01M201.8 445.1h.01M204.0 437.1h.01M219.3 475.3h.01M207.7 473.3h.01M204.5 414.7h.01M251.5 463.6h.01M223.2 410.1h.01M252.5 428.0h.01M209.5 421.5h.01M214.3 466.3h.01" stroke="#7A3FB8" stroke-width="2.3" stroke-opacity="0.85"/>
<path d="M233.5 466.1h.01M202.3 422.8h.01M237.9 413.8h.01M241.6 423.3h.01M212.9 470.5h.01M211.8 412.3h.01M191.8 446.7h.01M188.3 457.6h.01M241.8 453.5h.01M186.7 444.7h.01M194.0 450.9h.01M203.0 425.1h.01M244.9 443.8h.01M190.0 444.5h.01M238.4 422.4h.01M195.5 466.0h.01M217.3 440.0h.01M227.5 474.2h.01M256.2 439.9h.01M208.6 478.6h.01M207.1 416.0h.01M224.9 453.9h.01M202.5 476.1h.01M205.7 444.4h.01M194.8 423.5h.01M197.4 447.7h.01M228.3 409.8h.01M225.6 476.3h.01M199.8 421.3h.01M207.7 413.1h.01M236.4 430.4h.01M217.4 427.4h.01M188.9 429.8h.01M205.6 415.2h.01M212.6 412.8h.01M224.9 415.5h.01M243.3 417.6h.01M230.0 432.7h.01M256.2 458.8h.01M208.4 442.7h.01M251.7 431.1h.01M249.2 458.3h.01M226.4 464.9h.01M234.5 414.3h.01M206.7 449.9h.01M210.2 466.2h.01M195.6 434.1h.01M204.3 414.7h.01M220.4 481.1h.01M252.9 441.0h.01M218.8 473.3h.01M214.3 442.6h.01M212.2 473.6h.01M223.5 408.8h.01M255.1 456.3h.01M235.0 427.9h.01M252.7 459.1h.01M193.9 468.3h.01M244.8 448.4h.01M208.1 442.2h.01M248.1 435.8h.01M232.7 473.4h.01M208.6 477.5h.01M205.1 477.3h.01M208.9 410.6h.01M235.7 444.5h.01M193.4 436.1h.01M189.3 452.7h.01M193.5 464.4h.01M213.1 450.8h.01M247.8 466.7h.01M249.3 422.4h.01M239.6 415.6h.01M219.9 447.3h.01M241.9 438.3h.01M250.7 434.5h.01M222.6 438.9h.01M207.9 444.4h.01M238.3 465.8h.01M253.9 433.6h.01M209.6 460.1h.01M253.6 437.7h.01M218.7 414.4h.01M232.4 411.2h.01M251.8 444.7h.01M208.5 478.0h.01M252.6 432.4h.01M233.9 415.9h.01M220.9 471.0h.01M237.0 435.7h.01M241.6 447.2h.01M239.7 469.1h.01M202.0 428.3h.01M226.9 474.4h.01M228.5 473.3h.01M226.0 435.8h.01M235.3 438.1h.01M199.3 454.9h.01M230.9 462.0h.01M227.5 455.4h.01M245.3 463.7h.01M210.2 427.0h.01M250.8 465.3h.01M234.1 425.6h.01M245.0 444.9h.01M253.4 444.4h.01M252.2 465.6h.01M245.8 447.5h.01M188.5 452.2h.01M237.6 412.3h.01M224.2 416.4h.01M253.6 461.2h.01M214.3 414.6h.01M242.2 469.8h.01M251.2 467.5h.01M246.0 468.3h.01M253.2 456.8h.01M241.1 417.5h.01M204.2 449.3h.01M210.0 471.6h.01M232.0 478.4h.01M239.0 414.5h.01M185.4 452.4h.01M204.2 430.3h.01M208.8 413.0h.01M194.0 430.9h.01M185.7 449.0h.01M243.4 430.3h.01M201.9 418.3h.01M221.3 409.1h.01M213.4 438.1h.01M209.4 470.9h.01M215.1 476.3h.01M189.9 458.1h.01M245.9 454.6h.01M208.3 419.8h.01M220.7 436.6h.01M211.1 423.2h.01M250.2 438.4h.01M229.8 422.0h.01M214.2 411.3h.01M195.3 456.1h.01M198.5 470.5h.01M213.2 434.9h.01M237.1 471.2h.01M211.6 414.6h.01M222.6 473.0h.01M204.4 472.9h.01M195.5 452.3h.01M187.4 453.0h.01M221.5 438.9h.01M240.9 414.1h.01M227.7 415.6h.01M204.0 475.9h.01M189.7 429.0h.01M228.3 471.4h.01M229.4 454.0h.01M186.7 437.8h.01M238.8 433.1h.01M195.5 456.8h.01M227.6 420.2h.01M208.3 437.1h.01M211.5 474.4h.01M244.8 426.9h.01M244.7 419.7h.01M223.1 463.3h.01M236.2 448.8h.01M189.1 454.1h.01M245.8 457.3h.01M217.2 458.1h.01M227.1 472.9h.01M192.3 447.1h.01M199.9 441.8h.01M239.9 470.2h.01M243.8 417.2h.01M239.4 478.3h.01M255.1 438.8h.01M256.2 438.5h.01M258.2 446.1h.01M255.6 436.3h.01M189.2 431.1h.01M216.0 480.0h.01M227.3 435.1h.01M237.1 412.4h.01M194.0 467.1h.01M223.8 468.1h.01M231.6 413.5h.01M222.4 475.4h.01M257.5 451.3h.01M193.6 423.3h.01M230.5 479.6h.01M185.0 451.9h.01M237.2 450.5h.01M193.4 454.9h.01M234.8 449.4h.01M229.4 429.6h.01" stroke="#8E5AC6" stroke-width="1.0" stroke-opacity="0.6"/>
</g></g>
<circle cx="301.0" cy="445.8" r="38.0" fill="#ECEBE2"/>
<g clip-path="url(#pc12)"><g filter="url(#db12)" fill="none" stroke-linecap="round">
<path d="M321.1 416.2h.01M326.3 444.5h.01M287.6 452.0h.01M293.5 478.5h.01M325.0 466.6h.01M283.8 472.7h.01M293.4 418.2h.01M291.8 469.0h.01M280.9 422.0h.01M303.5 445.4h.01M287.3 424.7h.01M265.4 449.1h.01M270.2 450.3h.01M287.0 417.0h.01M288.5 466.5h.01M288.1 470.7h.01M308.2 420.3h.01M326.0 422.9h.01M296.6 422.8h.01M288.7 417.9h.01M293.5 472.7h.01M306.6 455.1h.01M313.5 475.5h.01M329.5 422.3h.01M298.8 469.7h.01M313.6 419.3h.01M330.6 436.3h.01M286.4 421.4h.01M277.5 465.7h.01M288.9 418.5h.01M327.6 436.4h.01M268.2 450.1h.01M331.2 437.1h.01M276.9 422.7h.01M320.9 443.6h.01M319.5 465.1h.01M276.3 444.4h.01M307.8 467.7h.01M308.3 449.1h.01M320.2 434.4h.01M283.2 432.6h.01M270.5 433.2h.01M281.6 437.9h.01M330.5 456.4h.01M265.6 438.3h.01M295.4 474.7h.01M273.5 425.8h.01M328.6 456.9h.01M322.8 418.9h.01M301.5 418.6h.01M265.9 439.0h.01M284.8 428.1h.01M297.5 421.7h.01M282.2 440.4h.01M308.4 469.8h.01M270.4 450.9h.01M294.5 441.4h.01M313.3 413.2h.01M271.8 448.9h.01M274.7 425.4h.01M268.2 451.6h.01M316.9 427.6h.01M288.9 423.7h.01M301.9 459.0h.01M296.3 417.8h.01M278.0 441.2h.01M314.4 470.1h.01M289.9 424.0h.01M279.6 423.3h.01M303.3 468.9h.01M272.7 435.7h.01M277.6 462.4h.01M291.7 440.5h.01M273.2 440.0h.01M280.2 447.4h.01M311.4 479.4h.01M307.0 424.5h.01M328.0 454.7h.01M278.6 440.3h.01M312.0 470.5h.01M319.0 458.3h.01M296.4 457.5h.01M292.2 453.5h.01M306.8 427.7h.01M292.5 432.8h.01M310.1 450.4h.01M301.4 414.8h.01M295.6 431.8h.01M320.6 437.1h.01M317.2 478.0h.01M309.2 420.4h.01M327.3 430.6h.01M294.8 440.4h.01M276.5 454.2h.01M293.6 462.3h.01M332.1 453.7h.01M290.3 479.8h.01M335.1 432.3h.01M309.7 425.4h.01M269.5 460.5h.01M326.8 461.9h.01M308.4 424.8h.01M332.0 458.1h.01M267.5 429.4h.01M272.7 434.3h.01M308.5 464.3h.01M316.4 417.6h.01M318.4 473.9h.01M311.6 472.8h.01M315.3 467.8h.01M329.0 448.7h.01M289.8 446.9h.01M309.2 453.6h.01M291.1 426.2h.01M314.8 413.5h.01M301.2 444.6h.01M297.8 441.6h.01M265.9 453.4h.01M305.0 435.5h.01M332.8 451.8h.01M294.4 413.1h.01M305.0 429.4h.01M315.3 422.4h.01M300.8 413.2h.01M304.9 425.5h.01M305.0 423.9h.01M273.8 428.5h.01M280.1 435.8h.01M329.7 467.5h.01M308.6 413.7h.01M330.6 423.6h.01M289.2 462.4h.01M281.1 419.7h.01M308.1 434.7h.01M318.6 463.6h.01M320.6 415.3h.01M299.3 468.2h.01M284.6 470.0h.01M332.8 435.5h.01M326.3 471.1h.01M305.9 445.2h.01M317.1 450.1h.01M265.4 452.4h.01M286.8 431.6h.01M282.0 414.7h.01M304.4 453.9h.01M275.1 470.3h.01M296.6 414.5h.01M309.9 420.8h.01M265.1 447.6h.01M321.1 461.7h.01M323.9 452.9h.01M294.5 481.1h.01M317.8 468.1h.01M314.8 428.9h.01M327.6 431.8h.01M303.7 438.6h.01M278.7 435.6h.01M306.4 481.3h.01M294.8 442.6h.01M301.5 412.6h.01M268.7 453.1h.01M301.7 481.3h.01M314.8 423.9h.01M300.1 481.7h.01M275.3 437.7h.01M269.3 454.5h.01M272.3 448.5h.01M315.8 470.2h.01M288.5 457.3h.01M279.9 438.5h.01M331.9 446.4h.01M294.1 475.8h.01M298.9 481.3h.01M268.5 445.5h.01M330.6 445.2h.01M276.3 438.1h.01M293.7 452.2h.01M323.6 426.4h.01M297.2 479.5h.01M293.4 440.5h.01M311.9 414.7h.01M325.8 432.6h.01M310.7 480.5h.01M281.7 421.8h.01M268.4 442.5h.01M295.8 436.3h.01M333.6 458.6h.01M311.0 421.4h.01M306.8 460.9h.01M331.9 444.8h.01M327.4 422.0h.01M301.8 414.2h.01M330.4 454.9h.01M321.4 450.7h.01M288.3 444.4h.01M289.4 437.5h.01M282.6 475.4h.01M279.0 419.1h.01M317.2 469.9h.01M290.1 428.1h.01M309.5 411.2h.01M298.1 441.5h.01M302.9 430.4h.01M281.1 467.1h.01M298.1 450.1h.01M321.5 436.1h.01M334.1 453.9h.01M285.7 477.8h.01M301.7 420.2h.01M331.3 456.4h.01M292.0 415.1h.01M306.0 412.2h.01M308.4 444.6h.01M308.1 431.1h.01M310.1 454.2h.01M305.5 462.3h.01M334.0 451.1h.01M285.9 422.4h.01M323.5 463.5h.01M285.7 459.5h.01M311.0 421.7h.01M307.1 453.7h.01M312.2 429.0h.01M326.6 451.9h.01M319.7 427.4h.01M295.1 413.2h.01M288.4 478.1h.01M323.3 424.6h.01M290.8 421.5h.01M279.5 428.5h.01M309.2 411.7h.01M315.1 479.7h.01M313.3 466.1h.01M302.4 420.6h.01M287.6 416.0h.01M319.5 449.1h.01M311.7 474.6h.01M291.9 419.1h.01M326.1 468.1h.01M288.9 424.8h.01M276.2 426.7h.01M276.1 457.7h.01M298.2 467.9h.01M270.0 432.2h.01M327.4 464.9h.01M334.0 450.2h.01M268.6 463.6h.01M329.8 431.7h.01M333.3 450.9h.01M317.0 451.4h.01M297.2 469.4h.01M300.2 413.1h.01M268.6 428.8h.01M272.7 426.8h.01M289.6 411.3h.01M312.0 454.7h.01M323.0 471.9h.01M327.8 439.2h.01M320.8 469.4h.01M325.7 425.6h.01M305.8 471.6h.01M266.3 449.5h.01M293.4 433.3h.01M304.8 415.2h.01M272.7 463.8h.01M296.7 475.2h.01M279.7 452.0h.01M316.3 460.3h.01M266.5 432.3h.01M323.7 469.0h.01M268.5 446.4h.01M286.8 432.4h.01M328.6 429.7h.01M322.4 460.9h.01M321.7 453.8h.01M319.2 465.5h.01M272.3 440.7h.01M314.0 418.5h.01M278.6 418.1h.01M272.1 434.1h.01M308.1 416.8h.01M276.2 462.2h.01M315.3 446.4h.01M300.5 440.2h.01M323.6 419.0h.01M294.0 434.9h.01M321.8 427.8h.01M306.1 424.7h.01M309.5 414.4h.01M269.2 443.1h.01M309.7 439.5h.01M304.6 441.9h.01M321.7 421.0h.01M314.0 449.3h.01M299.5 481.9h.01M283.4 430.4h.01M303.5 414.4h.01M315.8 462.3h.01M272.5 450.8h.01M276.6 427.5h.01M291.0 471.0h.01M277.5 422.1h.01M278.6 443.3h.01M329.2 466.3h.01M280.7 424.2h.01M298.0 427.9h.01M273.8 470.2h.01M296.3 415.6h.01M294.4 453.6h.01M306.6 458.2h.01M307.0 411.1h.01M283.3 424.1h.01M292.7 412.6h.01M313.3 412.7h.01M287.6 418.1h.01M316.0 421.2h.01M320.1 469.3h.01M279.2 420.2h.01M324.4 452.4h.01M305.3 474.5h.01M313.5 453.1h.01M318.0 458.2h.01M296.3 421.0h.01M308.5 411.6h.01M329.4 461.6h.01M268.7 450.5h.01M321.0 417.8h.01M324.2 454.9h.01M319.7 414.6h.01M278.1 461.2h.01M280.8 463.7h.01M298.8 419.8h.01M272.1 431.3h.01M313.4 452.6h.01M299.8 421.5h.01M305.5 474.5h.01M301.8 409.1h.01M336.8 440.4h.01M327.1 434.5h.01M330.5 438.3h.01M280.3 469.2h.01M297.6 427.3h.01M325.0 425.8h.01M294.0 443.6h.01M313.6 419.4h.01M307.2 412.0h.01M282.5 424.2h.01M291.1 466.0h.01M299.2 455.0h.01M280.5 453.5h.01M305.1 437.0h.01M270.9 463.2h.01M281.3 465.7h.01M293.0 417.8h.01M290.6 414.5h.01M290.3 410.6h.01M289.2 415.4h.01M294.5 447.6h.01M303.3 417.2h.01M284.3 461.3h.01M314.9 430.0h.01M281.5 472.9h.01M265.8 454.1h.01M301.9 415.6h.01M302.6 430.9h.01M315.3 469.2h.01M282.9 444.8h.01M312.9 481.1h.01M297.5 434.1h.01M308.7 413.7h.01M281.7 433.0h.01M296.5 413.5h.01M270.4 438.9h.01M289.3 423.2h.01M271.7 427.5h.01M309.5 477.9h.01M311.0 418.9h.01M273.3 452.8h.01M325.0 436.6h.01M267.7 439.4h.01M317.8 428.1h.01M327.4 424.7h.01M325.7 469.4h.01M298.8 429.3h.01M275.6 427.4h.01M286.8 473.3h.01M273.9 436.0h.01M309.1 469.0h.01M274.3 465.7h.01M280.4 430.1h.01M296.2 450.6h.01M298.6 449.9h.01M277.2 447.1h.01M291.2 414.2h.01M277.7 432.4h.01M284.3 468.9h.01M273.5 427.1h.01M309.4 440.1h.01M282.2 462.9h.01M296.2 480.7h.01M320.6 433.1h.01M314.2 458.6h.01M306.1 472.2h.01M318.1 448.8h.01M265.7 456.3h.01M288.2 455.6h.01M324.5 428.1h.01M324.0 441.1h.01M293.9 416.3h.01M320.3 461.2h.01M269.8 465.7h.01M318.3 428.8h.01M298.1 467.1h.01M311.5 413.6h.01M317.7 414.2h.01M279.5 438.8h.01M279.2 421.5h.01M281.0 460.3h.01M321.5 423.9h.01M329.1 457.9h.01M288.4 418.4h.01M272.1 452.2h.01M290.6 420.5h.01M309.9 480.6h.01M298.5 420.6h.01M300.3 431.7h.01M314.3 435.5h.01M300.3 483.1h.01M304.2 411.3h.01M273.8 435.9h.01M265.9 441.4h.01M307.4 409.3h.01M276.8 464.7h.01M287.9 419.1h.01M281.6 434.8h.01M298.1 442.1h.01M305.0 414.3h.01M300.5 434.4h.01M324.2 422.3h.01M292.1 446.7h.01M309.9 474.3h.01M303.9 439.5h.01M279.4 463.5h.01M302.4 410.4h.01M271.4 438.6h.01M292.2 440.0h.01M285.3 468.1h.01M272.6 452.7h.01M280.5 441.8h.01M314.6 454.1h.01M325.2 429.6h.01M301.5 415.1h.01M323.7 417.7h.01M302.4 448.5h.01M277.5 469.5h.01M292.6 420.3h.01M314.5 424.2h.01M307.9 438.4h.01M330.8 430.5h.01M295.8 476.0h.01M324.2 423.4h.01M321.2 450.3h.01M284.3 425.5h.01M274.0 465.0h.01" stroke="#7A3FB8" stroke-width="1.3" stroke-opacity="0.9"/>
<path d="M265.7 444.7h.01M298.9 438.5h.01M326.2 450.4h.01M318.1 469.9h.01M328.8 446.4h.01M293.6 417.8h.01M272.7 421.6h.01M289.2 474.3h.01M290.9 417.3h.01M275.8 430.3h.01M293.5 477.8h.01M288.7 413.4h.01M307.8 414.1h.01M308.3 411.8h.01M307.7 444.8h.01M269.9 455.7h.01M285.1 446.4h.01M283.8 441.6h.01M297.4 417.7h.01M332.2 446.0h.01M270.2 466.9h.01M270.6 426.5h.01M284.0 446.3h.01M315.7 437.8h.01M327.6 428.9h.01M283.2 451.7h.01M322.7 437.4h.01M271.3 457.5h.01M322.5 431.5h.01M327.3 445.0h.01M284.8 431.5h.01M285.7 450.4h.01M277.7 462.9h.01M323.0 473.1h.01M315.8 419.7h.01M275.5 424.5h.01M322.3 424.1h.01M290.8 446.8h.01M274.4 422.4h.01M284.9 453.0h.01M322.6 471.1h.01M330.1 445.5h.01M276.6 464.7h.01M285.6 452.9h.01M276.4 440.1h.01M288.7 414.5h.01M304.6 482.4h.01M321.3 461.8h.01M273.5 452.9h.01M289.1 457.7h.01M289.4 423.3h.01M273.3 449.2h.01M309.3 435.8h.01M320.6 460.8h.01M328.1 430.1h.01M322.2 418.7h.01M321.7 434.3h.01M296.5 414.9h.01M306.1 438.4h.01M293.8 443.1h.01M266.9 443.1h.01M324.3 427.1h.01M267.3 437.0h.01M322.3 424.7h.01M304.2 462.5h.01M316.3 457.0h.01M283.9 458.9h.01M284.5 435.5h.01M272.8 424.9h.01M285.0 417.5h.01M286.7 472.0h.01M275.8 439.0h.01M286.2 426.2h.01M297.6 476.8h.01M268.5 434.2h.01M302.9 416.1h.01M303.6 458.4h.01M332.2 435.1h.01M292.6 411.0h.01M312.8 434.2h.01M326.8 436.4h.01M324.9 425.6h.01M271.2 467.8h.01M277.7 425.0h.01M284.3 413.2h.01M266.1 445.9h.01M295.2 424.8h.01M304.7 416.9h.01M324.0 451.9h.01M287.4 434.5h.01M330.2 426.3h.01M275.4 454.8h.01M325.9 435.5h.01M328.3 425.6h.01M279.5 458.2h.01M319.1 425.0h.01M269.3 433.2h.01M295.3 409.5h.01M311.3 426.5h.01M317.4 429.7h.01M291.3 434.3h.01M312.8 413.9h.01M300.4 449.3h.01M288.2 426.9h.01M277.8 426.5h.01M290.4 436.7h.01M298.4 437.8h.01M305.0 454.6h.01M323.0 447.2h.01M305.7 427.4h.01M269.8 452.6h.01M300.3 460.8h.01M304.1 428.1h.01M321.8 424.4h.01M287.6 425.6h.01M278.9 441.4h.01M297.4 424.8h.01M287.1 416.9h.01M294.3 443.9h.01M309.8 412.6h.01M300.4 475.5h.01M321.3 435.5h.01M295.0 437.4h.01M318.2 477.0h.01M289.2 438.5h.01M282.9 435.2h.01M278.9 467.9h.01M296.8 408.7h.01M316.6 414.4h.01M329.7 458.0h.01M282.7 473.6h.01M318.4 471.3h.01M298.2 441.1h.01M318.3 458.8h.01M325.8 418.7h.01M308.2 443.3h.01M270.8 461.6h.01M312.8 478.4h.01M286.1 440.3h.01M277.3 458.1h.01M292.2 435.7h.01M271.2 427.2h.01M315.1 429.3h.01M322.8 431.3h.01M320.6 427.2h.01M284.5 470.2h.01M277.4 469.8h.01M296.1 409.6h.01M333.0 437.2h.01M308.3 459.5h.01M328.3 466.7h.01M303.0 450.1h.01M306.4 417.0h.01M321.5 419.3h.01M322.7 428.6h.01M271.4 430.3h.01M325.9 441.6h.01M283.1 415.1h.01M274.9 421.0h.01M278.4 469.0h.01M292.7 418.8h.01M291.6 439.2h.01M312.0 411.6h.01M323.1 441.1h.01M289.6 435.8h.01M296.3 415.7h.01M325.1 432.2h.01M296.1 454.6h.01M292.4 412.3h.01M330.7 447.4h.01M328.8 432.6h.01M266.3 447.8h.01M301.0 451.1h.01M316.8 471.0h.01M308.6 414.2h.01M266.3 459.6h.01M297.6 434.5h.01M282.1 470.4h.01M284.6 457.6h.01M316.3 431.9h.01M304.0 414.3h.01M292.1 410.1h.01M297.7 441.9h.01M301.2 445.6h.01M304.0 458.3h.01M265.4 455.4h.01M303.2 440.9h.01M280.9 471.4h.01M299.1 413.0h.01M292.8 469.2h.01M309.1 441.9h.01M314.4 477.4h.01M329.3 428.0h.01M270.7 441.7h.01M271.1 432.0h.01M307.9 460.3h.01M323.0 467.9h.01M308.5 430.9h.01M282.7 464.0h.01M329.2 424.3h.01M290.8 481.4h.01M278.4 470.9h.01M326.7 429.9h.01M316.8 475.7h.01M319.2 445.1h.01M322.2 455.8h.01M308.2 475.6h.01M283.1 426.0h.01M304.0 441.0h.01M332.8 433.8h.01M290.1 478.1h.01M295.9 474.3h.01M290.0 419.5h.01M270.1 436.1h.01M282.2 471.7h.01M284.4 460.7h.01M276.8 419.1h.01M327.1 423.1h.01M321.7 443.6h.01M274.3 425.2h.01M298.1 456.9h.01M267.4 451.2h.01M303.9 408.5h.01M279.3 444.6h.01M306.0 420.2h.01M283.4 460.7h.01M283.0 426.4h.01M313.8 414.3h.01M323.9 422.6h.01M287.7 442.7h.01M321.1 456.0h.01M272.4 445.3h.01M297.8 430.3h.01M279.3 428.2h.01M307.2 447.4h.01M324.8 440.8h.01M290.3 454.9h.01M284.9 429.6h.01M298.7 431.6h.01M321.1 422.3h.01M301.4 469.2h.01M269.2 432.0h.01M304.0 465.0h.01M288.3 445.1h.01M268.4 441.1h.01M270.5 448.8h.01M282.4 424.0h.01M308.7 418.3h.01M308.1 437.0h.01M275.7 447.2h.01M305.4 475.8h.01M270.5 436.1h.01M265.4 436.0h.01M270.0 465.5h.01M267.3 438.1h.01M316.9 458.5h.01M330.9 445.9h.01M316.7 428.2h.01M312.1 449.8h.01M276.5 443.7h.01M276.7 456.7h.01M299.9 421.6h.01M321.7 435.0h.01M306.6 477.0h.01M285.1 465.8h.01M272.1 426.0h.01M269.6 448.7h.01M323.8 416.8h.01M331.6 463.0h.01M328.5 442.3h.01M276.0 469.6h.01M296.6 441.7h.01M325.5 452.8h.01M331.6 440.7h.01M306.8 446.6h.01M311.2 416.3h.01M295.5 411.0h.01M331.1 443.9h.01M266.3 445.9h.01M285.5 425.1h.01M293.4 438.4h.01M325.5 473.0h.01M318.0 479.0h.01M289.9 425.5h.01M328.8 428.3h.01M307.6 414.1h.01M295.2 459.7h.01M323.0 420.7h.01M267.6 460.6h.01M320.1 476.7h.01M332.3 445.9h.01M295.5 476.6h.01M320.7 444.6h.01M301.9 439.2h.01M289.9 459.8h.01M287.4 459.3h.01M264.9 443.4h.01M287.3 470.5h.01M333.8 436.7h.01M296.0 431.9h.01M286.2 467.6h.01M279.4 434.8h.01M320.2 464.0h.01M279.9 418.0h.01M304.3 477.2h.01M278.3 426.2h.01M306.4 438.6h.01M299.3 411.9h.01M274.5 423.3h.01M296.1 435.7h.01M283.4 443.0h.01M315.6 450.7h.01M317.7 469.6h.01M319.9 441.8h.01" stroke="#7A3FB8" stroke-width="1.8" stroke-opacity="0.9"/>
<path d="M280.2 465.7h.01M314.3 414.4h.01M318.2 473.0h.01M270.3 437.5h.01M331.8 447.5h.01M284.5 447.3h.01M296.0 436.7h.01M273.3 465.4h.01M273.3 459.1h.01M327.9 468.3h.01M307.7 462.5h.01M327.7 453.3h.01M280.8 417.4h.01M326.8 421.6h.01M301.8 447.7h.01M294.7 420.1h.01M280.0 467.8h.01M290.0 427.0h.01M327.9 428.2h.01M332.2 459.0h.01M276.2 424.7h.01M325.7 459.0h.01M323.6 459.0h.01M274.5 449.6h.01M286.0 462.0h.01M310.9 411.6h.01M316.1 448.9h.01M300.8 472.5h.01M311.2 468.9h.01M265.7 434.1h.01M273.5 424.9h.01M323.2 430.0h.01M329.9 466.0h.01M294.5 441.6h.01M313.4 468.9h.01M291.6 474.2h.01M277.2 430.6h.01M298.1 472.8h.01M285.1 440.0h.01M302.7 435.1h.01M315.6 427.7h.01M266.3 452.3h.01M290.5 417.9h.01M328.4 422.9h.01M321.5 450.9h.01M305.2 421.0h.01M284.1 420.4h.01M303.3 480.2h.01M324.6 419.5h.01M293.6 471.2h.01M270.4 433.5h.01M321.7 475.3h.01M280.0 463.3h.01M280.7 417.2h.01M279.1 422.2h.01M269.0 450.3h.01M272.8 448.7h.01M311.9 439.5h.01M276.1 446.5h.01M331.5 436.3h.01M282.3 474.5h.01M324.4 453.3h.01M311.3 428.5h.01M264.2 440.6h.01M287.6 455.7h.01M319.1 422.0h.01M286.6 442.7h.01M274.9 426.7h.01M292.3 417.9h.01M286.5 449.7h.01M321.7 422.9h.01M323.8 449.8h.01M295.3 479.9h.01M295.0 477.6h.01M280.1 426.4h.01M291.7 450.5h.01M325.7 422.2h.01M314.4 426.7h.01M273.4 421.0h.01M293.9 436.5h.01M311.1 452.6h.01M281.2 468.1h.01M302.8 477.3h.01M280.5 460.6h.01M320.7 453.7h.01M276.9 438.1h.01M283.1 446.4h.01M312.8 423.6h.01M284.3 473.1h.01M331.2 424.3h.01M273.8 431.7h.01M286.8 477.5h.01M269.3 444.7h.01M324.4 451.5h.01M323.3 459.2h.01M269.1 433.4h.01M320.0 420.8h.01M302.4 453.6h.01M307.6 479.1h.01M293.5 411.9h.01M328.6 432.5h.01M285.6 468.5h.01M298.6 417.7h.01" stroke="#7A3FB8" stroke-width="2.4" stroke-opacity="0.85"/>
<path d="M306.0 437.5h.01M317.7 427.5h.01M319.9 452.1h.01M285.8 423.3h.01M318.3 474.9h.01M321.6 463.4h.01M297.4 468.4h.01M280.2 428.6h.01M273.7 421.3h.01M285.1 421.1h.01M277.8 417.9h.01M294.3 478.8h.01M329.5 427.8h.01M281.3 417.2h.01M268.9 436.9h.01M312.6 431.7h.01M286.3 414.7h.01M274.5 429.4h.01M313.7 475.5h.01M310.9 419.5h.01M288.0 443.6h.01M319.8 418.8h.01M284.3 416.2h.01M297.4 428.4h.01M299.1 434.2h.01M265.1 448.4h.01M305.9 426.6h.01M294.0 438.2h.01M295.4 424.3h.01M282.3 424.3h.01M289.0 417.3h.01M283.0 426.1h.01M325.2 425.1h.01M282.0 417.5h.01M283.5 415.0h.01M271.1 424.7h.01M274.6 448.9h.01M331.0 435.8h.01M276.2 428.8h.01M324.6 432.6h.01M299.1 416.8h.01M300.6 436.5h.01M333.1 437.7h.01M299.9 441.0h.01M325.8 424.5h.01M321.4 415.6h.01M325.2 433.3h.01M299.2 422.7h.01M279.0 451.4h.01M318.7 472.9h.01M320.8 429.2h.01M293.2 423.7h.01M331.1 439.9h.01M300.4 412.6h.01M303.2 409.6h.01M310.2 474.5h.01M285.1 442.3h.01M301.9 426.9h.01M279.0 465.0h.01M306.5 425.9h.01M289.5 446.3h.01M270.4 424.5h.01M266.9 436.4h.01M292.3 425.1h.01M297.4 481.6h.01M281.9 439.7h.01M268.3 456.9h.01M330.4 424.8h.01M275.3 425.9h.01M301.9 443.5h.01M295.7 470.4h.01M284.9 420.6h.01M269.1 433.4h.01M328.7 428.5h.01M317.8 450.0h.01M303.7 412.6h.01M288.1 416.1h.01M289.6 429.9h.01M283.2 465.1h.01M303.0 480.7h.01M322.8 417.1h.01M289.8 465.5h.01M273.9 428.3h.01M268.3 455.1h.01M329.8 465.9h.01M323.3 425.1h.01M331.4 437.5h.01M308.4 460.9h.01M278.5 416.9h.01M281.8 421.8h.01M281.9 428.5h.01M285.2 414.0h.01M299.2 466.4h.01M302.7 412.1h.01M264.1 439.6h.01M281.0 444.8h.01M307.8 447.1h.01M279.8 424.1h.01M280.6 468.1h.01M327.3 434.3h.01M267.9 429.3h.01M330.7 433.5h.01M278.7 433.6h.01M321.6 442.9h.01M302.4 414.1h.01M323.6 452.3h.01M297.3 452.7h.01M311.6 457.5h.01M316.6 428.2h.01M302.3 409.8h.01M277.1 429.9h.01M274.2 433.7h.01M282.4 455.5h.01M319.7 418.7h.01M308.9 460.6h.01M315.2 420.2h.01M282.6 447.7h.01M280.6 459.3h.01M290.7 451.9h.01M322.5 421.5h.01M266.7 445.8h.01M311.2 415.6h.01M272.4 448.3h.01M285.1 442.2h.01M288.6 464.3h.01M270.7 442.5h.01M300.6 442.4h.01M297.7 424.2h.01M301.3 416.2h.01M311.9 426.4h.01M286.9 418.1h.01M330.3 456.5h.01M282.7 476.8h.01M330.7 452.0h.01M316.3 479.4h.01M286.6 419.9h.01M292.5 448.8h.01M287.2 428.9h.01M301.3 432.2h.01M321.8 422.6h.01M271.3 453.3h.01M313.4 477.6h.01M299.3 431.9h.01M319.0 415.4h.01M269.5 441.1h.01M284.8 431.1h.01M295.5 412.0h.01M321.9 443.2h.01M283.9 432.9h.01M327.3 425.9h.01M319.6 442.0h.01M278.5 430.4h.01M329.0 458.7h.01M289.9 480.2h.01M305.0 432.8h.01M323.4 452.7h.01M268.2 459.9h.01M323.7 468.8h.01M322.7 466.4h.01M304.9 467.3h.01M322.2 416.4h.01M276.0 427.0h.01M328.0 441.7h.01M324.8 466.5h.01M279.2 440.2h.01M324.6 422.7h.01M320.3 420.3h.01M275.8 422.2h.01M314.9 446.6h.01M333.1 443.2h.01M305.7 462.6h.01M321.3 464.9h.01M318.2 474.7h.01M302.9 457.3h.01M320.4 427.1h.01M309.5 417.1h.01M312.3 435.2h.01M281.0 422.8h.01M293.3 478.1h.01M289.3 455.1h.01M288.4 418.6h.01M288.8 426.8h.01M323.3 418.3h.01M318.6 447.2h.01M303.8 465.7h.01M316.6 440.8h.01M300.8 435.9h.01M307.7 418.4h.01M273.1 427.8h.01M289.0 443.2h.01M273.6 439.7h.01M328.8 466.9h.01M310.3 453.3h.01M279.7 438.8h.01M323.1 434.3h.01M284.7 453.0h.01M330.7 445.6h.01M267.2 456.3h.01M303.8 413.1h.01M324.6 435.1h.01M334.9 452.8h.01M309.7 412.7h.01M310.3 423.1h.01M328.4 455.9h.01M298.9 429.6h.01M327.3 433.1h.01M276.8 437.1h.01M270.0 445.2h.01M264.7 440.4h.01M279.7 423.9h.01M269.6 444.6h.01M304.4 414.5h.01M298.5 427.1h.01M293.8 435.8h.01M304.2 412.1h.01M276.1 429.9h.01M320.1 438.6h.01M295.2 449.0h.01M327.4 444.8h.01M328.4 435.3h.01M331.8 456.9h.01M316.5 464.5h.01M324.6 439.3h.01M277.3 443.5h.01M314.6 427.9h.01M265.0 446.6h.01M289.3 419.7h.01M302.2 468.5h.01M325.9 440.9h.01M292.0 479.8h.01M291.2 421.7h.01M295.4 453.1h.01M323.4 468.2h.01M282.7 476.2h.01M275.4 438.7h.01M285.2 477.3h.01M309.8 411.8h.01M298.0 479.0h.01M313.7 433.4h.01M320.2 440.6h.01M303.5 421.0h.01M306.4 434.8h.01M296.1 467.2h.01M297.6 413.9h.01M311.1 412.5h.01M297.5 460.4h.01M280.0 444.1h.01M278.2 463.5h.01M313.5 471.1h.01M291.0 429.8h.01M318.9 421.9h.01M312.7 468.5h.01M305.6 473.3h.01M291.1 412.0h.01M311.8 441.8h.01M318.0 420.0h.01M331.7 437.4h.01M313.5 470.3h.01M309.7 415.6h.01M281.1 455.5h.01M299.4 424.8h.01M323.1 426.8h.01M332.8 441.0h.01M305.1 477.7h.01M283.7 456.2h.01M290.4 424.1h.01M290.7 414.1h.01M331.8 444.8h.01M304.0 409.9h.01M276.6 429.3h.01M308.4 426.5h.01M307.1 415.9h.01M311.4 420.3h.01M319.7 439.6h.01M266.8 447.6h.01M315.3 417.1h.01M307.0 445.3h.01M302.7 481.8h.01M304.6 431.6h.01M287.9 454.8h.01M283.8 431.2h.01M310.3 421.9h.01M289.8 413.2h.01M331.5 439.0h.01M316.9 448.6h.01M300.9 480.7h.01M276.3 427.9h.01M320.1 447.4h.01M317.7 430.1h.01M319.6 467.7h.01M307.6 430.7h.01M323.5 469.0h.01M306.7 458.9h.01M328.1 463.1h.01M300.7 428.3h.01M284.1 471.1h.01M329.1 431.8h.01M270.4 434.7h.01M307.9 438.9h.01M297.0 439.1h.01M315.9 415.4h.01M323.9 473.2h.01M314.4 419.2h.01M285.0 439.2h.01M283.2 441.8h.01M282.6 465.4h.01M310.2 438.8h.01M319.0 438.3h.01M292.9 410.5h.01M294.3 409.5h.01M294.0 444.3h.01M307.8 421.5h.01M311.0 427.9h.01M270.2 453.9h.01M274.1 451.1h.01M311.0 415.5h.01M302.4 466.1h.01M299.2 442.0h.01M272.0 466.2h.01M293.7 419.5h.01M284.1 445.0h.01M269.9 464.3h.01M317.1 424.3h.01M316.8 445.2h.01M333.1 447.0h.01M290.5 423.8h.01M277.9 474.1h.01M327.3 443.9h.01M335.0 449.6h.01M304.9 429.2h.01M308.6 434.4h.01M292.9 448.5h.01M288.3 467.4h.01M303.9 461.4h.01M307.2 412.3h.01M276.9 424.6h.01M299.7 480.6h.01M266.6 454.5h.01M331.9 448.3h.01M319.9 431.5h.01M307.8 479.0h.01M266.9 442.8h.01M325.8 418.4h.01M290.9 443.9h.01M287.3 474.1h.01M307.4 433.1h.01M291.7 422.9h.01M302.7 416.2h.01M273.9 453.6h.01M309.0 413.4h.01M270.4 429.8h.01M273.1 445.8h.01M328.7 433.8h.01M327.1 463.9h.01M319.6 427.3h.01M322.1 428.9h.01M289.1 417.6h.01M296.9 471.2h.01M318.0 434.4h.01M279.7 423.3h.01M324.3 449.5h.01M295.7 439.4h.01M321.6 414.9h.01M304.5 459.1h.01M279.7 441.6h.01M286.7 417.3h.01M298.0 474.7h.01M321.5 468.8h.01M329.9 422.3h.01M281.3 425.5h.01M303.2 434.0h.01M283.5 478.0h.01M303.7 420.9h.01M311.3 446.7h.01M296.7 415.7h.01M329.8 428.1h.01M290.7 454.5h.01M289.7 446.4h.01M315.3 422.4h.01M278.3 468.9h.01M275.9 434.0h.01M291.8 439.4h.01M272.2 455.7h.01M308.2 431.0h.01M305.1 416.1h.01M276.7 421.4h.01M277.9 419.4h.01M331.8 454.6h.01M283.8 426.4h.01M328.3 433.0h.01M324.0 428.9h.01M283.0 445.4h.01M280.2 439.7h.01M283.6 468.3h.01M304.4 411.7h.01M302.3 413.1h.01M274.1 445.1h.01M291.2 435.1h.01M305.7 475.8h.01M305.2 450.5h.01M295.4 478.0h.01M292.3 410.7h.01M332.6 450.1h.01M275.5 419.7h.01M332.8 452.6h.01M317.1 435.2h.01M315.7 428.7h.01M270.6 462.2h.01M289.8 474.0h.01M281.2 441.8h.01M320.7 457.7h.01M301.6 434.4h.01M277.0 453.1h.01M287.4 428.0h.01M312.8 452.6h.01M278.9 465.0h.01M317.6 420.3h.01M320.8 419.2h.01M293.6 475.9h.01M296.0 472.1h.01M267.8 428.6h.01M293.2 434.3h.01M267.2 432.9h.01M295.5 433.6h.01M270.6 463.4h.01M278.6 418.5h.01M308.4 410.2h.01M280.7 414.5h.01M303.1 411.4h.01M301.4 425.4h.01M286.3 422.1h.01M272.3 465.6h.01M273.5 420.5h.01M323.1 451.8h.01M310.3 466.5h.01M302.0 445.0h.01M282.8 463.8h.01M322.8 471.2h.01M285.0 436.8h.01M320.9 438.3h.01M275.1 428.5h.01M287.3 422.1h.01M328.8 423.2h.01M310.2 451.8h.01M290.6 411.2h.01M282.6 473.9h.01M299.0 420.5h.01M274.1 422.3h.01M317.1 419.9h.01M314.0 469.8h.01M283.3 430.3h.01M290.7 433.0h.01M297.8 482.1h.01M327.6 464.4h.01M326.1 453.2h.01M316.7 417.1h.01M276.9 429.2h.01M301.9 474.1h.01M300.2 462.3h.01M281.3 422.7h.01M271.7 466.5h.01M297.0 422.3h.01M263.9 445.2h.01M314.8 421.5h.01M285.4 443.1h.01M293.7 420.9h.01M321.5 458.3h.01M272.3 469.6h.01" stroke="#8E5AC6" stroke-width="1.0" stroke-opacity="0.6"/>
</g></g>
<text x="61.80" y="239.20" font-size="10.8" text-anchor="middle" fill="#141414" textLength="29.6" lengthAdjust="spacingAndGlyphs">DMSO</text>
<text x="141.50" y="239.20" font-size="10.8" text-anchor="middle" fill="#141414" textLength="52.3" lengthAdjust="spacingAndGlyphs">17-AAG+PL</text>
<text x="222.00" y="239.20" font-size="10.8" text-anchor="middle" fill="#141414" textLength="81.6" lengthAdjust="spacingAndGlyphs">NAC+17-AAG+PL</text>
<text x="302.30" y="239.20" font-size="10.8" text-anchor="middle" fill="#141414" textLength="20.6" lengthAdjust="spacingAndGlyphs">NAC</text>
<text x="11.30" y="286.00" font-size="10.8" text-anchor="middle" fill="#141414" transform="rotate(-90 11.30 286.00)" textLength="42.7" lengthAdjust="spacingAndGlyphs">HCT116</text>
<text x="11.30" y="366.50" font-size="10.8" text-anchor="middle" fill="#141414" transform="rotate(-90 11.30 366.50)" textLength="22.5" lengthAdjust="spacingAndGlyphs">RKO</text>
<text x="11.30" y="445.80" font-size="10.8" text-anchor="middle" fill="#141414" transform="rotate(-90 11.30 445.80)" textLength="35.6" lengthAdjust="spacingAndGlyphs">HCT15</text>
<text x="-0.40" y="243.40" font-size="19.4" text-anchor="start" fill="#141414" transform="translate(-0.40 243.40) scale(0.91 1) translate(0.40 -243.40)" stroke-width="0.65">D</text>
<text x="245.60" y="523.40" font-size="19.4" text-anchor="start" fill="#141414" transform="translate(245.60 523.40) scale(0.84 1) translate(-245.60 -523.40)" stroke-width="0.65">G</text>
<text x="380.00" y="539.90" font-size="14.2" text-anchor="middle" fill="#141414" textLength="41.8" lengthAdjust="spacingAndGlyphs">HCT15</text>
<line x1="313.90" y1="549.00" x2="439.00" y2="549.00" stroke="#111" stroke-width="1.3" stroke-linecap="butt"/>
<text x="235.00" y="573.70" font-size="12" text-anchor="start" fill="#141414" textLength="71.7" lengthAdjust="spacingAndGlyphs">17-AAG (μM)</text>
<text x="331.70" y="573.00" font-size="12" text-anchor="middle" fill="#141414">-</text>
<text x="362.00" y="573.00" font-size="12" text-anchor="middle" fill="#141414">10</text>
<text x="391.00" y="573.00" font-size="12" text-anchor="middle" fill="#141414">10</text>
<text x="421.70" y="573.00" font-size="12" text-anchor="middle" fill="#141414">-</text>
<text x="235.00" y="593.70" font-size="12" text-anchor="start" fill="#141414">PL (μM)</text>
<text x="331.70" y="593.00" font-size="12" text-anchor="middle" fill="#141414">-</text>
<text x="362.00" y="593.00" font-size="12" text-anchor="middle" fill="#141414">10</text>
<text x="391.00" y="593.00" font-size="12" text-anchor="middle" fill="#141414">10</text>
<text x="421.70" y="593.00" font-size="12" text-anchor="middle" fill="#141414">-</text>
<text x="235.00" y="613.70" font-size="12" text-anchor="start" fill="#141414">NAC (mM)</text>
<text x="331.70" y="613.00" font-size="12" text-anchor="middle" fill="#141414">-</text>
<text x="362.00" y="613.00" font-size="12" text-anchor="middle" fill="#141414">-</text>
<text x="391.00" y="613.00" font-size="12" text-anchor="middle" fill="#141414">5</text>
<text x="421.70" y="613.00" font-size="12" text-anchor="middle" fill="#141414">5</text>
<text x="234.00" y="644.30" font-size="12" text-anchor="start" fill="#141414" textLength="72" lengthAdjust="spacingAndGlyphs">Cle-caspase 3</text>
<text x="258.30" y="673.70" font-size="12" text-anchor="start" fill="#141414" textLength="39.4" lengthAdjust="spacingAndGlyphs">GAPDH</text>
<g clip-path="url(#bc1)"><rect x="313.4" y="626.2" width="126.7" height="26.3" fill="url(#bg1)"/><rect x="313.4" y="626.2" width="126.7" height="26.3" fill="url(#bg1v)"/>
<g filter="url(#bl2)"><rect x="316" y="633" width="28" height="5" fill="#6a6a6a" opacity="0.6"/><rect x="316" y="640.5" width="28" height="5" fill="#6a6a6a" opacity="0.6"/><rect x="378" y="635" width="22" height="10" fill="#787878" opacity="0.5"/><rect x="405" y="632" width="26" height="12" fill="#6c6c6c" opacity="0.65"/><rect x="347" y="629" width="27" height="21" fill="#484848" opacity="0.7"/></g>
<g filter="url(#bl1)"><rect x="349.4" y="633.0" width="13.5" height="4.6" rx="1.8" fill="#080808"/><rect x="364.2" y="633.6" width="6.5" height="3.8" rx="1.8" fill="#1a1a1a"/><rect x="350.2" y="639.8" width="21.6" height="5.0" rx="1.8" fill="#080808"/></g>
</g>
<rect x="313.4" y="626.2" width="126.7" height="26.3" fill="none" stroke="#0c0c0c" stroke-width="1.15"/>
<g clip-path="url(#bc2)"><rect x="313.4" y="655.3" width="126.7" height="26.2" fill="#f8f8f8"/>
<g filter="url(#bl3)" fill="none" stroke="#030303" stroke-linecap="round">
<path d="M323.2 666.3 Q 334 664.9 346.0 665.8" stroke-width="4.3"/>
<path d="M352.4 665.9 Q 362 666.0 371.2 668.4" stroke-width="4.0"/><path d="M364 667.6 L371.4 668.9" stroke-width="4.6"/>
<path d="M379.6 668.4 Q 388 666.0 397.8 666.0" stroke-width="4.0"/><path d="M379.8 668.6 L384 667.8" stroke-width="4.4"/>
<path d="M404.8 667.0 Q 416 667.0 427.0 668.1" stroke-width="4.1"/><path d="M405 666.8 L414 667.0" stroke-width="4.6"/>
</g></g>
<rect x="313.4" y="655.3" width="126.7" height="26.2" fill="none" stroke="#0c0c0c" stroke-width="1.15"/>
</svg>
</body></html>
